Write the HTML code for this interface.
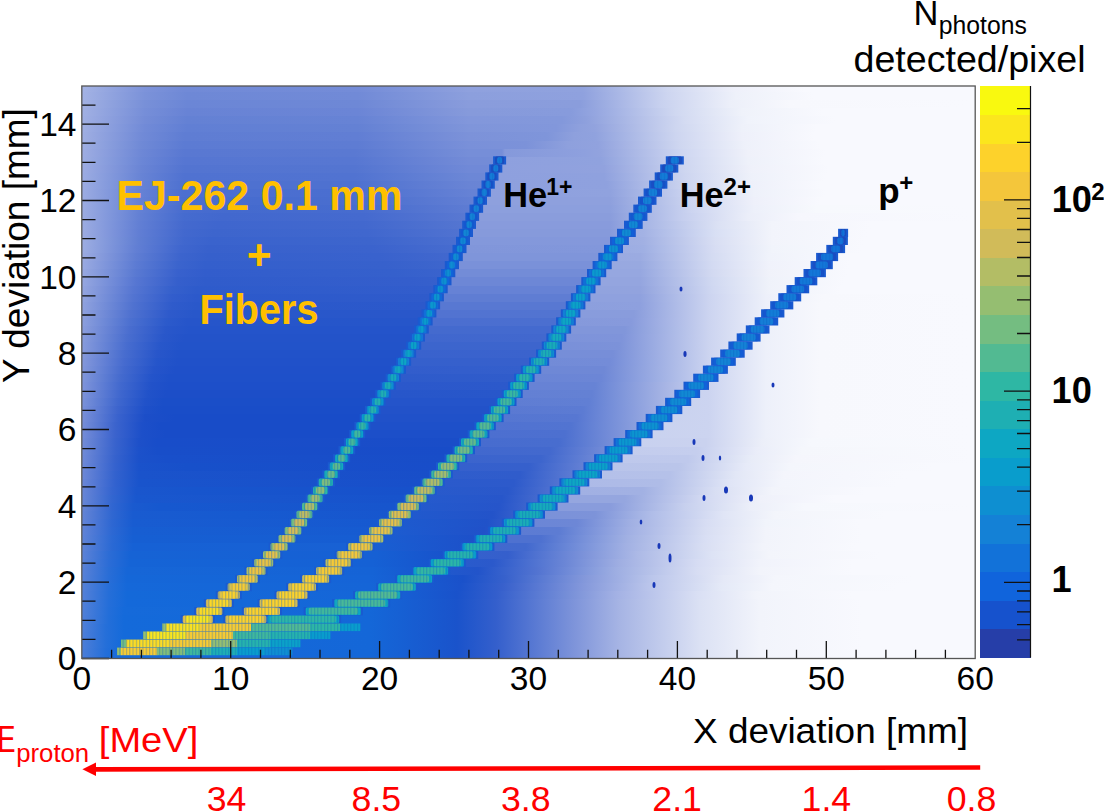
<!DOCTYPE html><html><head><meta charset="utf-8"><style>html,body{margin:0;padding:0;background:#fff;width:1104px;height:811px;overflow:hidden;font-family:"Liberation Sans",sans-serif}svg{display:block}</style></head><body><svg width="1104" height="811" viewBox="0 0 1104 811" font-family="'Liberation Sans', sans-serif">
<defs><linearGradient id="r0" gradientUnits="userSpaceOnUse" x1="82" x2="975" y1="0" y2="0"><stop offset="0.0000" stop-color="#4c7dd8"/><stop offset="0.0269" stop-color="#226ed9"/><stop offset="0.0437" stop-color="#146ada"/><stop offset="0.3225" stop-color="#1467d8"/><stop offset="0.4199" stop-color="#1a53cb"/><stop offset="0.4636" stop-color="#345fcc"/><stop offset="0.5510" stop-color="#7e94da"/><stop offset="0.6013" stop-color="#a6b4e4"/><stop offset="0.6920" stop-color="#dbe1f4"/><stop offset="0.7592" stop-color="#f2f4fb"/><stop offset="0.8735" stop-color="#f8f9fe"/><stop offset="0.9978" stop-color="#f8f9fe"/></linearGradient><linearGradient id="r1" gradientUnits="userSpaceOnUse" x1="82" x2="975" y1="0" y2="0"><stop offset="0.0000" stop-color="#4c7ed8"/><stop offset="0.0269" stop-color="#236ed9"/><stop offset="0.0437" stop-color="#146ada"/><stop offset="0.3225" stop-color="#1467d8"/><stop offset="0.4199" stop-color="#1a53cb"/><stop offset="0.4636" stop-color="#345fcc"/><stop offset="0.5510" stop-color="#7e94da"/><stop offset="0.6013" stop-color="#a6b4e4"/><stop offset="0.6920" stop-color="#dbe1f4"/><stop offset="0.7592" stop-color="#f2f4fb"/><stop offset="0.8735" stop-color="#f8f9fe"/><stop offset="0.9978" stop-color="#f8f9fe"/></linearGradient><linearGradient id="r2" gradientUnits="userSpaceOnUse" x1="82" x2="975" y1="0" y2="0"><stop offset="0.0000" stop-color="#4d7ed8"/><stop offset="0.0269" stop-color="#246fd9"/><stop offset="0.0437" stop-color="#156ada"/><stop offset="0.3225" stop-color="#1467d8"/><stop offset="0.4199" stop-color="#1a53cb"/><stop offset="0.4636" stop-color="#345fcc"/><stop offset="0.5510" stop-color="#7e94da"/><stop offset="0.6013" stop-color="#a6b4e4"/><stop offset="0.6920" stop-color="#dbe1f4"/><stop offset="0.7592" stop-color="#f2f4fb"/><stop offset="0.8735" stop-color="#f8f9fe"/><stop offset="0.9978" stop-color="#f8f9fe"/></linearGradient><linearGradient id="r3" gradientUnits="userSpaceOnUse" x1="82" x2="975" y1="0" y2="0"><stop offset="0.0000" stop-color="#4e7ed8"/><stop offset="0.0269" stop-color="#256fd9"/><stop offset="0.0470" stop-color="#146ada"/><stop offset="0.3225" stop-color="#1467d8"/><stop offset="0.4199" stop-color="#1a53cb"/><stop offset="0.4636" stop-color="#345fcc"/><stop offset="0.5510" stop-color="#7e94da"/><stop offset="0.6013" stop-color="#a6b4e4"/><stop offset="0.6920" stop-color="#dbe1f4"/><stop offset="0.7592" stop-color="#f2f4fb"/><stop offset="0.8735" stop-color="#f8f9fe"/><stop offset="0.9978" stop-color="#f8f9fe"/></linearGradient><linearGradient id="r4" gradientUnits="userSpaceOnUse" x1="82" x2="975" y1="0" y2="0"><stop offset="0.0000" stop-color="#4f7fd8"/><stop offset="0.0269" stop-color="#256fd9"/><stop offset="0.0470" stop-color="#146ada"/><stop offset="0.3225" stop-color="#1467d8"/><stop offset="0.4199" stop-color="#1a53cb"/><stop offset="0.4636" stop-color="#345fcc"/><stop offset="0.5510" stop-color="#7e94da"/><stop offset="0.6013" stop-color="#a6b4e4"/><stop offset="0.6920" stop-color="#dbe1f4"/><stop offset="0.7592" stop-color="#f2f4fb"/><stop offset="0.8735" stop-color="#f8f9fe"/><stop offset="0.9978" stop-color="#f8f9fe"/></linearGradient><linearGradient id="r5" gradientUnits="userSpaceOnUse" x1="82" x2="975" y1="0" y2="0"><stop offset="0.0000" stop-color="#507fd8"/><stop offset="0.0302" stop-color="#226ed9"/><stop offset="0.0470" stop-color="#146ada"/><stop offset="0.3225" stop-color="#1467d8"/><stop offset="0.4199" stop-color="#1a53cb"/><stop offset="0.4636" stop-color="#345fcc"/><stop offset="0.5510" stop-color="#7e94da"/><stop offset="0.6013" stop-color="#a6b4e4"/><stop offset="0.6920" stop-color="#dbe1f4"/><stop offset="0.7592" stop-color="#f2f4fb"/><stop offset="0.8735" stop-color="#f8f9fe"/><stop offset="0.9978" stop-color="#f8f9fe"/></linearGradient><linearGradient id="r6" gradientUnits="userSpaceOnUse" x1="82" x2="975" y1="0" y2="0"><stop offset="0.0000" stop-color="#5180d8"/><stop offset="0.0302" stop-color="#236ed9"/><stop offset="0.0470" stop-color="#156ada"/><stop offset="0.3225" stop-color="#1467d8"/><stop offset="0.4199" stop-color="#1a53cb"/><stop offset="0.4636" stop-color="#345fcc"/><stop offset="0.5510" stop-color="#7e94da"/><stop offset="0.6013" stop-color="#a6b4e4"/><stop offset="0.6920" stop-color="#dbe1f4"/><stop offset="0.7592" stop-color="#f2f4fb"/><stop offset="0.8735" stop-color="#f8f9fe"/><stop offset="0.9978" stop-color="#f8f9fe"/></linearGradient><linearGradient id="r7" gradientUnits="userSpaceOnUse" x1="82" x2="975" y1="0" y2="0"><stop offset="0.0000" stop-color="#5280d8"/><stop offset="0.0302" stop-color="#246ed9"/><stop offset="0.0504" stop-color="#1469da"/><stop offset="0.3225" stop-color="#1467d8"/><stop offset="0.4199" stop-color="#1a53cb"/><stop offset="0.4636" stop-color="#345fcc"/><stop offset="0.5510" stop-color="#7e94da"/><stop offset="0.6013" stop-color="#a6b4e4"/><stop offset="0.6920" stop-color="#dbe1f4"/><stop offset="0.7592" stop-color="#f2f4fb"/><stop offset="0.8735" stop-color="#f8f9fe"/><stop offset="0.9978" stop-color="#f8f9fe"/></linearGradient><linearGradient id="r8" gradientUnits="userSpaceOnUse" x1="82" x2="975" y1="0" y2="0"><stop offset="0.0000" stop-color="#5480d8"/><stop offset="0.0302" stop-color="#256ed8"/><stop offset="0.0504" stop-color="#1469d9"/><stop offset="0.3225" stop-color="#1566d8"/><stop offset="0.4199" stop-color="#1952cb"/><stop offset="0.4636" stop-color="#335ecc"/><stop offset="0.5510" stop-color="#7c93d9"/><stop offset="0.5980" stop-color="#a3b1e4"/><stop offset="0.6887" stop-color="#d9dff4"/><stop offset="0.7559" stop-color="#f2f4fb"/><stop offset="0.8634" stop-color="#f8f9fe"/><stop offset="0.9978" stop-color="#f8f9fe"/></linearGradient><linearGradient id="r9" gradientUnits="userSpaceOnUse" x1="82" x2="975" y1="0" y2="0"><stop offset="0.0000" stop-color="#5581d8"/><stop offset="0.0302" stop-color="#266ed8"/><stop offset="0.0504" stop-color="#1568d9"/><stop offset="0.3225" stop-color="#1565d7"/><stop offset="0.4233" stop-color="#1a52cb"/><stop offset="0.4703" stop-color="#3760cc"/><stop offset="0.5610" stop-color="#8498db"/><stop offset="0.6316" stop-color="#b8c3ea"/><stop offset="0.7156" stop-color="#e4e9f7"/><stop offset="0.7727" stop-color="#f4f6fc"/><stop offset="0.9138" stop-color="#f8f9fe"/><stop offset="0.9978" stop-color="#f8f9fe"/></linearGradient><linearGradient id="r10" gradientUnits="userSpaceOnUse" x1="82" x2="975" y1="0" y2="0"><stop offset="0.0000" stop-color="#5781d7"/><stop offset="0.0302" stop-color="#286dd7"/><stop offset="0.0504" stop-color="#1567d8"/><stop offset="0.3225" stop-color="#1564d7"/><stop offset="0.4267" stop-color="#1a51ca"/><stop offset="0.4737" stop-color="#3761cc"/><stop offset="0.5644" stop-color="#8599db"/><stop offset="0.6383" stop-color="#bbc6eb"/><stop offset="0.7189" stop-color="#e5e9f7"/><stop offset="0.7760" stop-color="#f4f6fc"/><stop offset="0.9306" stop-color="#f8f9fe"/><stop offset="0.9978" stop-color="#f8f9fe"/></linearGradient><linearGradient id="r11" gradientUnits="userSpaceOnUse" x1="82" x2="975" y1="0" y2="0"><stop offset="0.0000" stop-color="#5981d7"/><stop offset="0.0302" stop-color="#296dd6"/><stop offset="0.0504" stop-color="#1666d7"/><stop offset="0.3259" stop-color="#1563d6"/><stop offset="0.3897" stop-color="#1756ce"/><stop offset="0.3931" stop-color="#205ace"/><stop offset="0.4434" stop-color="#2254ca"/><stop offset="0.5106" stop-color="#5374d1"/><stop offset="0.5980" stop-color="#9eaee2"/><stop offset="0.6887" stop-color="#d7ddf3"/><stop offset="0.7592" stop-color="#f2f4fb"/><stop offset="0.8634" stop-color="#f8f9fe"/><stop offset="0.9978" stop-color="#f8f9fe"/></linearGradient><linearGradient id="r12" gradientUnits="userSpaceOnUse" x1="82" x2="975" y1="0" y2="0"><stop offset="0.0000" stop-color="#5a82d7"/><stop offset="0.0302" stop-color="#2b6cd6"/><stop offset="0.0538" stop-color="#1564d6"/><stop offset="0.3259" stop-color="#1561d5"/><stop offset="0.4065" stop-color="#1753cc"/><stop offset="0.4099" stop-color="#285ccd"/><stop offset="0.4602" stop-color="#2b59cb"/><stop offset="0.5409" stop-color="#6b86d6"/><stop offset="0.6013" stop-color="#9faee2"/><stop offset="0.6887" stop-color="#d6dcf3"/><stop offset="0.7592" stop-color="#f1f3fb"/><stop offset="0.8634" stop-color="#f8f9fe"/><stop offset="0.9978" stop-color="#f8f9fe"/></linearGradient><linearGradient id="r13" gradientUnits="userSpaceOnUse" x1="82" x2="975" y1="0" y2="0"><stop offset="0.0000" stop-color="#5c82d7"/><stop offset="0.0302" stop-color="#2c6cd5"/><stop offset="0.0538" stop-color="#1663d5"/><stop offset="0.3292" stop-color="#1660d4"/><stop offset="0.4233" stop-color="#1850ca"/><stop offset="0.4267" stop-color="#3461cd"/><stop offset="0.4770" stop-color="#355fcc"/><stop offset="0.5644" stop-color="#7e94da"/><stop offset="0.6215" stop-color="#acb9e6"/><stop offset="0.7055" stop-color="#dde3f5"/><stop offset="0.7693" stop-color="#f3f5fb"/><stop offset="0.8936" stop-color="#f8f9fe"/><stop offset="0.9978" stop-color="#f8f9fe"/></linearGradient><linearGradient id="r14" gradientUnits="userSpaceOnUse" x1="82" x2="975" y1="0" y2="0"><stop offset="0.0000" stop-color="#5e83d7"/><stop offset="0.0336" stop-color="#2a69d4"/><stop offset="0.0571" stop-color="#1661d5"/><stop offset="0.3124" stop-color="#1861d4"/><stop offset="0.4401" stop-color="#1d50c9"/><stop offset="0.4434" stop-color="#4168ce"/><stop offset="0.4972" stop-color="#4269ce"/><stop offset="0.6081" stop-color="#a1b0e3"/><stop offset="0.6954" stop-color="#d8def3"/><stop offset="0.7626" stop-color="#f2f4fb"/><stop offset="0.8667" stop-color="#f8f9fe"/><stop offset="0.9978" stop-color="#f8f9fe"/></linearGradient><linearGradient id="r15" gradientUnits="userSpaceOnUse" x1="82" x2="975" y1="0" y2="0"><stop offset="0.0000" stop-color="#5f83d7"/><stop offset="0.0336" stop-color="#2b69d4"/><stop offset="0.0571" stop-color="#165fd3"/><stop offset="0.3225" stop-color="#165dd2"/><stop offset="0.3292" stop-color="#1a5ed2"/><stop offset="0.4434" stop-color="#1d50c9"/><stop offset="0.4569" stop-color="#2555ca"/><stop offset="0.4602" stop-color="#4e71d0"/><stop offset="0.5140" stop-color="#4e71d0"/><stop offset="0.6114" stop-color="#a2b1e3"/><stop offset="0.6988" stop-color="#d9dff4"/><stop offset="0.7660" stop-color="#f2f4fb"/><stop offset="0.8735" stop-color="#f8f9fe"/><stop offset="0.9978" stop-color="#f8f9fe"/></linearGradient><linearGradient id="r16" gradientUnits="userSpaceOnUse" x1="82" x2="975" y1="0" y2="0"><stop offset="0.0000" stop-color="#6183d7"/><stop offset="0.0336" stop-color="#2d68d3"/><stop offset="0.0571" stop-color="#175ed2"/><stop offset="0.3326" stop-color="#165bd1"/><stop offset="0.3359" stop-color="#1c5dd1"/><stop offset="0.4502" stop-color="#2051c9"/><stop offset="0.4703" stop-color="#2c59cb"/><stop offset="0.4737" stop-color="#5c7bd3"/><stop offset="0.5342" stop-color="#5d7cd3"/><stop offset="0.6114" stop-color="#a0afe3"/><stop offset="0.6988" stop-color="#d8def3"/><stop offset="0.7660" stop-color="#f2f4fb"/><stop offset="0.8735" stop-color="#f8f9fe"/><stop offset="0.9978" stop-color="#f8f9fe"/></linearGradient><linearGradient id="r17" gradientUnits="userSpaceOnUse" x1="82" x2="975" y1="0" y2="0"><stop offset="0.0000" stop-color="#6384d7"/><stop offset="0.0336" stop-color="#2e67d2"/><stop offset="0.0571" stop-color="#185cd1"/><stop offset="0.3393" stop-color="#1659d0"/><stop offset="0.3427" stop-color="#1658cf"/><stop offset="0.3460" stop-color="#1d5bcf"/><stop offset="0.4535" stop-color="#2052c9"/><stop offset="0.4871" stop-color="#3660cc"/><stop offset="0.4905" stop-color="#6b86d6"/><stop offset="0.5543" stop-color="#6d87d6"/><stop offset="0.6148" stop-color="#a1b0e3"/><stop offset="0.6988" stop-color="#d7ddf3"/><stop offset="0.7660" stop-color="#f1f4fb"/><stop offset="0.8701" stop-color="#f8f9fe"/><stop offset="0.9978" stop-color="#f8f9fe"/></linearGradient><linearGradient id="r18" gradientUnits="userSpaceOnUse" x1="82" x2="975" y1="0" y2="0"><stop offset="0.0000" stop-color="#6484d6"/><stop offset="0.0336" stop-color="#3067d1"/><stop offset="0.0571" stop-color="#195bd0"/><stop offset="0.1781" stop-color="#165ad0"/><stop offset="0.3494" stop-color="#1756ce"/><stop offset="0.3527" stop-color="#1756ce"/><stop offset="0.3561" stop-color="#205ace"/><stop offset="0.4602" stop-color="#2353c9"/><stop offset="0.5006" stop-color="#3e66ce"/><stop offset="0.5039" stop-color="#7a91d9"/><stop offset="0.5745" stop-color="#7d93d9"/><stop offset="0.6383" stop-color="#b0bde8"/><stop offset="0.7189" stop-color="#e0e5f6"/><stop offset="0.7760" stop-color="#f3f5fb"/><stop offset="0.9003" stop-color="#f8f9fe"/><stop offset="0.9978" stop-color="#f8f9fe"/></linearGradient><linearGradient id="r19" gradientUnits="userSpaceOnUse" x1="82" x2="975" y1="0" y2="0"><stop offset="0.0000" stop-color="#6685d6"/><stop offset="0.0336" stop-color="#3166d1"/><stop offset="0.0571" stop-color="#1a5acf"/><stop offset="0.0873" stop-color="#1658cf"/><stop offset="0.3494" stop-color="#1755cd"/><stop offset="0.3628" stop-color="#1754cd"/><stop offset="0.3662" stop-color="#235acd"/><stop offset="0.4670" stop-color="#2655ca"/><stop offset="0.5140" stop-color="#476ccf"/><stop offset="0.5174" stop-color="#889cdc"/><stop offset="0.5913" stop-color="#899cdc"/><stop offset="0.6753" stop-color="#c7d0ee"/><stop offset="0.7492" stop-color="#eceff9"/><stop offset="0.8096" stop-color="#f6f8fd"/><stop offset="0.9978" stop-color="#f8f9fe"/></linearGradient><linearGradient id="r20" gradientUnits="userSpaceOnUse" x1="82" x2="975" y1="0" y2="0"><stop offset="0.0000" stop-color="#6886d6"/><stop offset="0.0336" stop-color="#3366d0"/><stop offset="0.0605" stop-color="#1957ce"/><stop offset="0.3595" stop-color="#1753cc"/><stop offset="0.3729" stop-color="#1752cb"/><stop offset="0.3763" stop-color="#255acd"/><stop offset="0.4703" stop-color="#2756ca"/><stop offset="0.5274" stop-color="#5072d0"/><stop offset="0.5308" stop-color="#95a6df"/><stop offset="0.6081" stop-color="#95a6df"/><stop offset="0.6920" stop-color="#d0d7f1"/><stop offset="0.7592" stop-color="#eff1fa"/><stop offset="0.8432" stop-color="#f8f9fe"/><stop offset="0.9978" stop-color="#f8f9fe"/></linearGradient><linearGradient id="r21" gradientUnits="userSpaceOnUse" x1="82" x2="975" y1="0" y2="0"><stop offset="0.0000" stop-color="#6986d6"/><stop offset="0.0336" stop-color="#3565d0"/><stop offset="0.0605" stop-color="#1a56cd"/><stop offset="0.1277" stop-color="#1755cd"/><stop offset="0.3695" stop-color="#1751cb"/><stop offset="0.3830" stop-color="#1750ca"/><stop offset="0.3863" stop-color="#285acc"/><stop offset="0.4770" stop-color="#2a58ca"/><stop offset="0.5375" stop-color="#5676d2"/><stop offset="0.5409" stop-color="#a1b0e3"/><stop offset="0.6282" stop-color="#a2b1e3"/><stop offset="0.7088" stop-color="#d8def3"/><stop offset="0.7727" stop-color="#f2f4fb"/><stop offset="0.8768" stop-color="#f8f9fe"/><stop offset="0.9978" stop-color="#f8f9fe"/></linearGradient><linearGradient id="r22" gradientUnits="userSpaceOnUse" x1="82" x2="975" y1="0" y2="0"><stop offset="0.0000" stop-color="#6b87d7"/><stop offset="0.0370" stop-color="#3262cf"/><stop offset="0.0638" stop-color="#1954cc"/><stop offset="0.3830" stop-color="#184fca"/><stop offset="0.3897" stop-color="#184fca"/><stop offset="0.3931" stop-color="#2a5acc"/><stop offset="0.4838" stop-color="#2d5acb"/><stop offset="0.5510" stop-color="#5e7cd3"/><stop offset="0.5543" stop-color="#adbae7"/><stop offset="0.6484" stop-color="#afbce7"/><stop offset="0.7256" stop-color="#e0e5f6"/><stop offset="0.7828" stop-color="#f3f5fc"/><stop offset="0.9138" stop-color="#f8f9fe"/><stop offset="0.9978" stop-color="#f8f9fe"/></linearGradient><linearGradient id="r23" gradientUnits="userSpaceOnUse" x1="82" x2="975" y1="0" y2="0"><stop offset="0.0000" stop-color="#6d88d7"/><stop offset="0.0370" stop-color="#3362ce"/><stop offset="0.0638" stop-color="#1a53cb"/><stop offset="0.3998" stop-color="#184ec9"/><stop offset="0.4031" stop-color="#2f5dcc"/><stop offset="0.4905" stop-color="#305ccb"/><stop offset="0.5644" stop-color="#6783d5"/><stop offset="0.5677" stop-color="#b4c0e9"/><stop offset="0.6585" stop-color="#b5c1e9"/><stop offset="0.7324" stop-color="#e2e7f6"/><stop offset="0.7861" stop-color="#f4f5fc"/><stop offset="0.9239" stop-color="#f8f9fe"/><stop offset="0.9978" stop-color="#f8f9fe"/></linearGradient><linearGradient id="r24" gradientUnits="userSpaceOnUse" x1="82" x2="975" y1="0" y2="0"><stop offset="0.0000" stop-color="#6e89d7"/><stop offset="0.0370" stop-color="#3562ce"/><stop offset="0.0638" stop-color="#1a52cb"/><stop offset="0.1176" stop-color="#1750ca"/><stop offset="0.4065" stop-color="#184dc9"/><stop offset="0.4099" stop-color="#3560cd"/><stop offset="0.5006" stop-color="#3660cc"/><stop offset="0.5745" stop-color="#6d87d6"/><stop offset="0.5778" stop-color="#b9c4ea"/><stop offset="0.6685" stop-color="#bac5ea"/><stop offset="0.7424" stop-color="#e6eaf8"/><stop offset="0.7928" stop-color="#f4f6fc"/><stop offset="0.9541" stop-color="#f8f9fe"/><stop offset="0.9978" stop-color="#f8f9fe"/></linearGradient><linearGradient id="r25" gradientUnits="userSpaceOnUse" x1="82" x2="975" y1="0" y2="0"><stop offset="0.0000" stop-color="#708ad7"/><stop offset="0.0370" stop-color="#3662cd"/><stop offset="0.0638" stop-color="#1b51ca"/><stop offset="0.0941" stop-color="#184fca"/><stop offset="0.4166" stop-color="#184dc8"/><stop offset="0.4199" stop-color="#3b64cd"/><stop offset="0.5140" stop-color="#3d65cd"/><stop offset="0.5879" stop-color="#768ed8"/><stop offset="0.5913" stop-color="#bec8ec"/><stop offset="0.6786" stop-color="#bfc9ec"/><stop offset="0.7492" stop-color="#e8ecf8"/><stop offset="0.7996" stop-color="#f5f6fc"/><stop offset="0.9978" stop-color="#f8f9fe"/></linearGradient><linearGradient id="r26" gradientUnits="userSpaceOnUse" x1="82" x2="975" y1="0" y2="0"><stop offset="0.0000" stop-color="#718bd7"/><stop offset="0.0370" stop-color="#3863cd"/><stop offset="0.0638" stop-color="#1c51ca"/><stop offset="0.0840" stop-color="#184ec9"/><stop offset="0.4267" stop-color="#184cc8"/><stop offset="0.4300" stop-color="#4168ce"/><stop offset="0.5241" stop-color="#4369ce"/><stop offset="0.5980" stop-color="#7c92d9"/><stop offset="0.6013" stop-color="#c3cced"/><stop offset="0.6887" stop-color="#c5ceee"/><stop offset="0.7559" stop-color="#eaedf9"/><stop offset="0.8063" stop-color="#f5f7fc"/><stop offset="0.9978" stop-color="#f8f9fe"/></linearGradient><linearGradient id="r27" gradientUnits="userSpaceOnUse" x1="82" x2="975" y1="0" y2="0"><stop offset="0.0000" stop-color="#738cd7"/><stop offset="0.0370" stop-color="#3963cd"/><stop offset="0.0638" stop-color="#1d50c9"/><stop offset="0.0840" stop-color="#184dc9"/><stop offset="0.4334" stop-color="#1a4dc8"/><stop offset="0.4367" stop-color="#476ccf"/><stop offset="0.5342" stop-color="#486dcf"/><stop offset="0.6081" stop-color="#8196da"/><stop offset="0.6114" stop-color="#c8d1ef"/><stop offset="0.6988" stop-color="#cad2ef"/><stop offset="0.7626" stop-color="#eceff9"/><stop offset="0.8163" stop-color="#f6f8fd"/><stop offset="0.9978" stop-color="#f8f9fe"/></linearGradient><linearGradient id="r28" gradientUnits="userSpaceOnUse" x1="82" x2="975" y1="0" y2="0"><stop offset="0.0000" stop-color="#758dd8"/><stop offset="0.0370" stop-color="#3b63cd"/><stop offset="0.0672" stop-color="#1c4fc9"/><stop offset="0.0941" stop-color="#184cc8"/><stop offset="0.3057" stop-color="#184cc8"/><stop offset="0.3124" stop-color="#1c4fc9"/><stop offset="0.4434" stop-color="#1c4fc9"/><stop offset="0.4468" stop-color="#4c6fd0"/><stop offset="0.5409" stop-color="#4d70d0"/><stop offset="0.6215" stop-color="#8c9edd"/><stop offset="0.6249" stop-color="#c9d2ef"/><stop offset="0.7021" stop-color="#ccd4f0"/><stop offset="0.7660" stop-color="#edf0fa"/><stop offset="0.8264" stop-color="#f7f8fd"/><stop offset="0.9978" stop-color="#f8f9fe"/></linearGradient><linearGradient id="r29" gradientUnits="userSpaceOnUse" x1="82" x2="975" y1="0" y2="0"><stop offset="0.0000" stop-color="#768ed8"/><stop offset="0.0370" stop-color="#3c64cd"/><stop offset="0.0672" stop-color="#1d4fc9"/><stop offset="0.0873" stop-color="#184cc8"/><stop offset="0.3124" stop-color="#184cc8"/><stop offset="0.3158" stop-color="#1e50c9"/><stop offset="0.4502" stop-color="#1e50c9"/><stop offset="0.4535" stop-color="#5072d1"/><stop offset="0.5476" stop-color="#5274d1"/><stop offset="0.6349" stop-color="#97a8e0"/><stop offset="0.6383" stop-color="#c9d2ef"/><stop offset="0.7021" stop-color="#ccd4f0"/><stop offset="0.7660" stop-color="#edf0fa"/><stop offset="0.8264" stop-color="#f7f8fd"/><stop offset="0.9978" stop-color="#f8f9fe"/></linearGradient><linearGradient id="r30" gradientUnits="userSpaceOnUse" x1="82" x2="975" y1="0" y2="0"><stop offset="0.0000" stop-color="#788fd8"/><stop offset="0.0403" stop-color="#3962cd"/><stop offset="0.0705" stop-color="#1c4ec8"/><stop offset="0.1041" stop-color="#184cc8"/><stop offset="0.3191" stop-color="#184cc8"/><stop offset="0.3225" stop-color="#2051c9"/><stop offset="0.4569" stop-color="#2051c9"/><stop offset="0.4602" stop-color="#5576d1"/><stop offset="0.5543" stop-color="#5777d2"/><stop offset="0.6417" stop-color="#9dade2"/><stop offset="0.6450" stop-color="#a0afe3"/><stop offset="0.6484" stop-color="#c9d2ef"/><stop offset="0.7021" stop-color="#ccd4f0"/><stop offset="0.7660" stop-color="#edf0fa"/><stop offset="0.8264" stop-color="#f7f8fd"/><stop offset="0.9978" stop-color="#f8f9fe"/></linearGradient><linearGradient id="r31" gradientUnits="userSpaceOnUse" x1="82" x2="975" y1="0" y2="0"><stop offset="0.0000" stop-color="#7990d9"/><stop offset="0.0403" stop-color="#3c64cd"/><stop offset="0.0705" stop-color="#1e50c9"/><stop offset="0.0907" stop-color="#194dc8"/><stop offset="0.3225" stop-color="#194dc8"/><stop offset="0.3259" stop-color="#2252c9"/><stop offset="0.4670" stop-color="#2252c9"/><stop offset="0.4703" stop-color="#5a79d2"/><stop offset="0.5610" stop-color="#5c7bd3"/><stop offset="0.6450" stop-color="#a0afe3"/><stop offset="0.6551" stop-color="#a9b6e5"/><stop offset="0.6585" stop-color="#c9d2ef"/><stop offset="0.7021" stop-color="#ccd4f0"/><stop offset="0.7660" stop-color="#edf0fa"/><stop offset="0.8264" stop-color="#f7f8fd"/><stop offset="0.9978" stop-color="#f8f9fe"/></linearGradient><linearGradient id="r32" gradientUnits="userSpaceOnUse" x1="82" x2="975" y1="0" y2="0"><stop offset="0.0000" stop-color="#7b92d9"/><stop offset="0.0403" stop-color="#3f67ce"/><stop offset="0.0705" stop-color="#2152c9"/><stop offset="0.0907" stop-color="#1a4ec8"/><stop offset="0.3292" stop-color="#1a4ec8"/><stop offset="0.3326" stop-color="#2454ca"/><stop offset="0.4737" stop-color="#2454ca"/><stop offset="0.4770" stop-color="#5f7dd3"/><stop offset="0.5677" stop-color="#617fd4"/><stop offset="0.6517" stop-color="#a6b4e4"/><stop offset="0.6652" stop-color="#b1bde8"/><stop offset="0.6685" stop-color="#c9d2ef"/><stop offset="0.7021" stop-color="#ccd4f0"/><stop offset="0.7660" stop-color="#edf0fa"/><stop offset="0.8264" stop-color="#f7f8fd"/><stop offset="0.9978" stop-color="#f8f9fe"/></linearGradient><linearGradient id="r33" gradientUnits="userSpaceOnUse" x1="82" x2="975" y1="0" y2="0"><stop offset="0.0000" stop-color="#7d93d9"/><stop offset="0.0437" stop-color="#3e66ce"/><stop offset="0.0739" stop-color="#2152c9"/><stop offset="0.0941" stop-color="#1c4ec8"/><stop offset="0.3359" stop-color="#1c4ec8"/><stop offset="0.3393" stop-color="#2756ca"/><stop offset="0.4804" stop-color="#2857ca"/><stop offset="0.4838" stop-color="#6380d4"/><stop offset="0.5711" stop-color="#6481d4"/><stop offset="0.6517" stop-color="#a6b4e4"/><stop offset="0.6753" stop-color="#b8c4ea"/><stop offset="0.6786" stop-color="#c9d2ef"/><stop offset="0.7021" stop-color="#ccd4f0"/><stop offset="0.7660" stop-color="#edf0fa"/><stop offset="0.8264" stop-color="#f7f8fd"/><stop offset="0.9978" stop-color="#f8f9fe"/></linearGradient><linearGradient id="r34" gradientUnits="userSpaceOnUse" x1="82" x2="975" y1="0" y2="0"><stop offset="0.0000" stop-color="#7f94da"/><stop offset="0.0437" stop-color="#4168ce"/><stop offset="0.0773" stop-color="#2252c9"/><stop offset="0.0974" stop-color="#1d4fc9"/><stop offset="0.3427" stop-color="#1d4fc9"/><stop offset="0.3460" stop-color="#2b58cb"/><stop offset="0.4871" stop-color="#2c59cb"/><stop offset="0.4905" stop-color="#6782d5"/><stop offset="0.5745" stop-color="#6783d5"/><stop offset="0.6551" stop-color="#a9b6e5"/><stop offset="0.6853" stop-color="#c0caec"/><stop offset="0.6887" stop-color="#c9d2ef"/><stop offset="0.7021" stop-color="#ccd4f0"/><stop offset="0.7660" stop-color="#edf0fa"/><stop offset="0.8264" stop-color="#f7f8fd"/><stop offset="0.9978" stop-color="#f8f9fe"/></linearGradient><linearGradient id="r35" gradientUnits="userSpaceOnUse" x1="82" x2="975" y1="0" y2="0"><stop offset="0.0000" stop-color="#8096da"/><stop offset="0.0437" stop-color="#446ace"/><stop offset="0.0773" stop-color="#2454ca"/><stop offset="0.0974" stop-color="#1e50c9"/><stop offset="0.3460" stop-color="#1e50c9"/><stop offset="0.3494" stop-color="#2e5bcb"/><stop offset="0.4938" stop-color="#305ccb"/><stop offset="0.4972" stop-color="#6a85d6"/><stop offset="0.5812" stop-color="#6c86d6"/><stop offset="0.7021" stop-color="#ccd4f0"/><stop offset="0.7660" stop-color="#edf0fa"/><stop offset="0.8264" stop-color="#f7f8fd"/><stop offset="0.9978" stop-color="#f8f9fe"/></linearGradient><linearGradient id="r36" gradientUnits="userSpaceOnUse" x1="82" x2="975" y1="0" y2="0"><stop offset="0.0000" stop-color="#8297db"/><stop offset="0.0470" stop-color="#4369ce"/><stop offset="0.0806" stop-color="#2554ca"/><stop offset="0.1041" stop-color="#1f50c9"/><stop offset="0.3527" stop-color="#1f50c9"/><stop offset="0.3561" stop-color="#325dcc"/><stop offset="0.5006" stop-color="#345fcc"/><stop offset="0.5039" stop-color="#6e88d6"/><stop offset="0.5845" stop-color="#6f88d6"/><stop offset="0.7021" stop-color="#ccd4f0"/><stop offset="0.7660" stop-color="#edf0fa"/><stop offset="0.8264" stop-color="#f7f8fd"/><stop offset="0.9978" stop-color="#f8f9fe"/></linearGradient><linearGradient id="r37" gradientUnits="userSpaceOnUse" x1="82" x2="975" y1="0" y2="0"><stop offset="0.0000" stop-color="#8498db"/><stop offset="0.0470" stop-color="#466bcf"/><stop offset="0.0840" stop-color="#2555ca"/><stop offset="0.1075" stop-color="#2051c9"/><stop offset="0.3595" stop-color="#2051c9"/><stop offset="0.3628" stop-color="#3560cc"/><stop offset="0.5039" stop-color="#3760cc"/><stop offset="0.5106" stop-color="#3b63cd"/><stop offset="0.5140" stop-color="#728bd7"/><stop offset="0.5913" stop-color="#748cd8"/><stop offset="0.7021" stop-color="#ccd4f0"/><stop offset="0.7660" stop-color="#edf0fa"/><stop offset="0.8264" stop-color="#f7f8fd"/><stop offset="0.9978" stop-color="#f8f9fe"/></linearGradient><linearGradient id="r38" gradientUnits="userSpaceOnUse" x1="82" x2="975" y1="0" y2="0"><stop offset="0.0000" stop-color="#8599db"/><stop offset="0.0470" stop-color="#486dcf"/><stop offset="0.0840" stop-color="#2856ca"/><stop offset="0.1075" stop-color="#2152c9"/><stop offset="0.3628" stop-color="#2152c9"/><stop offset="0.3662" stop-color="#3962cd"/><stop offset="0.5106" stop-color="#3b63cd"/><stop offset="0.5174" stop-color="#3f66ce"/><stop offset="0.5207" stop-color="#768ed8"/><stop offset="0.5946" stop-color="#778ed8"/><stop offset="0.7021" stop-color="#ccd4f0"/><stop offset="0.7660" stop-color="#edf0fa"/><stop offset="0.8264" stop-color="#f7f8fd"/><stop offset="0.9978" stop-color="#f8f9fe"/></linearGradient><linearGradient id="r39" gradientUnits="userSpaceOnUse" x1="82" x2="975" y1="0" y2="0"><stop offset="0.0000" stop-color="#879bdc"/><stop offset="0.0504" stop-color="#476ccf"/><stop offset="0.0873" stop-color="#2857ca"/><stop offset="0.1109" stop-color="#2253c9"/><stop offset="0.3695" stop-color="#2253c9"/><stop offset="0.3729" stop-color="#3c65cd"/><stop offset="0.5140" stop-color="#3d65cd"/><stop offset="0.5241" stop-color="#446ace"/><stop offset="0.5274" stop-color="#7990d9"/><stop offset="0.6013" stop-color="#7c92d9"/><stop offset="0.7021" stop-color="#ccd4f0"/><stop offset="0.7660" stop-color="#edf0fa"/><stop offset="0.8264" stop-color="#f7f8fd"/><stop offset="0.9978" stop-color="#f8f9fe"/></linearGradient><linearGradient id="r40" gradientUnits="userSpaceOnUse" x1="82" x2="975" y1="0" y2="0"><stop offset="0.0000" stop-color="#889cdc"/><stop offset="0.0504" stop-color="#4a6ecf"/><stop offset="0.0907" stop-color="#2957ca"/><stop offset="0.1142" stop-color="#2353c9"/><stop offset="0.3729" stop-color="#2353c9"/><stop offset="0.3763" stop-color="#4067ce"/><stop offset="0.5207" stop-color="#4268ce"/><stop offset="0.5308" stop-color="#496dcf"/><stop offset="0.5342" stop-color="#7d93da"/><stop offset="0.6047" stop-color="#7f94da"/><stop offset="0.7021" stop-color="#ccd4f0"/><stop offset="0.7660" stop-color="#edf0fa"/><stop offset="0.8264" stop-color="#f7f8fd"/><stop offset="0.9978" stop-color="#f8f9fe"/></linearGradient><linearGradient id="r41" gradientUnits="userSpaceOnUse" x1="82" x2="975" y1="0" y2="0"><stop offset="0.0000" stop-color="#8a9ddc"/><stop offset="0.0538" stop-color="#496dcf"/><stop offset="0.0941" stop-color="#2957ca"/><stop offset="0.1209" stop-color="#2454ca"/><stop offset="0.3796" stop-color="#2454ca"/><stop offset="0.3830" stop-color="#446ace"/><stop offset="0.5241" stop-color="#446acf"/><stop offset="0.5342" stop-color="#4b6fd0"/><stop offset="0.5375" stop-color="#8196da"/><stop offset="0.6081" stop-color="#8196da"/><stop offset="0.7021" stop-color="#ccd4f0"/><stop offset="0.7660" stop-color="#edf0fa"/><stop offset="0.8264" stop-color="#f7f8fd"/><stop offset="0.9978" stop-color="#f8f9fe"/></linearGradient><linearGradient id="r42" gradientUnits="userSpaceOnUse" x1="82" x2="975" y1="0" y2="0"><stop offset="0.0000" stop-color="#8c9fdd"/><stop offset="0.0538" stop-color="#4c70d0"/><stop offset="0.0941" stop-color="#2c5acb"/><stop offset="0.1176" stop-color="#2655ca"/><stop offset="0.3830" stop-color="#2656ca"/><stop offset="0.3863" stop-color="#4b6ed0"/><stop offset="0.5342" stop-color="#4b6fd0"/><stop offset="0.5409" stop-color="#5072d1"/><stop offset="0.5442" stop-color="#8599db"/><stop offset="0.6148" stop-color="#879adc"/><stop offset="0.7021" stop-color="#ccd4f0"/><stop offset="0.7660" stop-color="#edf0fa"/><stop offset="0.8264" stop-color="#f7f8fd"/><stop offset="0.9978" stop-color="#f8f9fe"/></linearGradient><linearGradient id="r43" gradientUnits="userSpaceOnUse" x1="82" x2="975" y1="0" y2="0"><stop offset="0.0000" stop-color="#8ea0dd"/><stop offset="0.0538" stop-color="#5072d0"/><stop offset="0.0974" stop-color="#2e5acb"/><stop offset="0.1243" stop-color="#2857ca"/><stop offset="0.3863" stop-color="#2957ca"/><stop offset="0.3897" stop-color="#5273d1"/><stop offset="0.5442" stop-color="#5274d1"/><stop offset="0.5476" stop-color="#889cdc"/><stop offset="0.6181" stop-color="#899cdc"/><stop offset="0.7021" stop-color="#ccd4f0"/><stop offset="0.7660" stop-color="#edf0fa"/><stop offset="0.8264" stop-color="#f7f8fd"/><stop offset="0.9978" stop-color="#f8f9fe"/></linearGradient><linearGradient id="r44" gradientUnits="userSpaceOnUse" x1="82" x2="975" y1="0" y2="0"><stop offset="0.0000" stop-color="#90a2de"/><stop offset="0.0571" stop-color="#5072d0"/><stop offset="0.1008" stop-color="#2f5bcb"/><stop offset="0.1277" stop-color="#2a58ca"/><stop offset="0.3897" stop-color="#2c59cb"/><stop offset="0.3931" stop-color="#5878d2"/><stop offset="0.5510" stop-color="#5878d2"/><stop offset="0.5543" stop-color="#8c9fdd"/><stop offset="0.6249" stop-color="#8ea0de"/><stop offset="0.7021" stop-color="#ccd4f0"/><stop offset="0.7660" stop-color="#edf0fa"/><stop offset="0.8264" stop-color="#f7f8fd"/><stop offset="0.9978" stop-color="#f8f9fe"/></linearGradient><linearGradient id="r45" gradientUnits="userSpaceOnUse" x1="82" x2="975" y1="0" y2="0"><stop offset="0.0000" stop-color="#92a4df"/><stop offset="0.0571" stop-color="#5374d1"/><stop offset="0.1008" stop-color="#325dcc"/><stop offset="0.1277" stop-color="#2c59cb"/><stop offset="0.3964" stop-color="#2f5bcb"/><stop offset="0.3998" stop-color="#5f7dd3"/><stop offset="0.5577" stop-color="#5f7dd3"/><stop offset="0.5610" stop-color="#8fa1de"/><stop offset="0.6249" stop-color="#8fa1de"/><stop offset="0.7021" stop-color="#ccd4f0"/><stop offset="0.7660" stop-color="#edf0fa"/><stop offset="0.8298" stop-color="#f7f8fd"/><stop offset="0.9978" stop-color="#f8f9fe"/></linearGradient><linearGradient id="r46" gradientUnits="userSpaceOnUse" x1="82" x2="975" y1="0" y2="0"><stop offset="0.0000" stop-color="#94a5df"/><stop offset="0.0571" stop-color="#5676d2"/><stop offset="0.1008" stop-color="#3560cc"/><stop offset="0.1277" stop-color="#2e5bcb"/><stop offset="0.3998" stop-color="#325dcc"/><stop offset="0.4031" stop-color="#6682d5"/><stop offset="0.5610" stop-color="#6682d5"/><stop offset="0.5644" stop-color="#91a3de"/><stop offset="0.6249" stop-color="#92a3de"/><stop offset="0.7055" stop-color="#cfd7f1"/><stop offset="0.7693" stop-color="#eff2fa"/><stop offset="0.8499" stop-color="#f8f9fe"/><stop offset="0.9978" stop-color="#f8f9fe"/></linearGradient><linearGradient id="r47" gradientUnits="userSpaceOnUse" x1="82" x2="975" y1="0" y2="0"><stop offset="0.0000" stop-color="#96a7e0"/><stop offset="0.0605" stop-color="#5676d2"/><stop offset="0.1075" stop-color="#355fcc"/><stop offset="0.1377" stop-color="#305ccb"/><stop offset="0.3662" stop-color="#345ecc"/><stop offset="0.4031" stop-color="#3660cc"/><stop offset="0.4065" stop-color="#6d87d6"/><stop offset="0.5677" stop-color="#6d87d6"/><stop offset="0.5711" stop-color="#94a5df"/><stop offset="0.6249" stop-color="#94a5df"/><stop offset="0.7055" stop-color="#d0d8f1"/><stop offset="0.7693" stop-color="#eff2fa"/><stop offset="0.8533" stop-color="#f8f9fe"/><stop offset="0.9978" stop-color="#f8f9fe"/></linearGradient><linearGradient id="r48" gradientUnits="userSpaceOnUse" x1="82" x2="975" y1="0" y2="0"><stop offset="0.0000" stop-color="#98a8e0"/><stop offset="0.0605" stop-color="#5979d2"/><stop offset="0.1075" stop-color="#3861cd"/><stop offset="0.1377" stop-color="#325dcc"/><stop offset="0.3494" stop-color="#3560cc"/><stop offset="0.4099" stop-color="#3a63cd"/><stop offset="0.4132" stop-color="#738cd7"/><stop offset="0.5745" stop-color="#738cd7"/><stop offset="0.5778" stop-color="#96a7e0"/><stop offset="0.6249" stop-color="#96a7e0"/><stop offset="0.7055" stop-color="#d2d9f1"/><stop offset="0.7693" stop-color="#f0f2fa"/><stop offset="0.8567" stop-color="#f8f9fe"/><stop offset="0.9978" stop-color="#f8f9fe"/></linearGradient><linearGradient id="r49" gradientUnits="userSpaceOnUse" x1="82" x2="975" y1="0" y2="0"><stop offset="0.0000" stop-color="#9aaae1"/><stop offset="0.0605" stop-color="#5c7bd3"/><stop offset="0.1075" stop-color="#3b64cd"/><stop offset="0.1377" stop-color="#345fcc"/><stop offset="0.3393" stop-color="#3761cc"/><stop offset="0.4132" stop-color="#3e66cd"/><stop offset="0.4166" stop-color="#7a91d9"/><stop offset="0.5812" stop-color="#7a91d9"/><stop offset="0.5845" stop-color="#98a8e0"/><stop offset="0.6249" stop-color="#98a9e0"/><stop offset="0.7055" stop-color="#d3daf2"/><stop offset="0.7693" stop-color="#f0f2fb"/><stop offset="0.8600" stop-color="#f8f9fe"/><stop offset="0.9978" stop-color="#f8f9fe"/></linearGradient><linearGradient id="r50" gradientUnits="userSpaceOnUse" x1="82" x2="975" y1="0" y2="0"><stop offset="0.0000" stop-color="#9cabe1"/><stop offset="0.0605" stop-color="#5f7dd3"/><stop offset="0.1109" stop-color="#3c64cd"/><stop offset="0.1411" stop-color="#3660cc"/><stop offset="0.3326" stop-color="#3962cd"/><stop offset="0.4166" stop-color="#4268ce"/><stop offset="0.4199" stop-color="#7f95da"/><stop offset="0.5879" stop-color="#7f95da"/><stop offset="0.5913" stop-color="#9aaae1"/><stop offset="0.6249" stop-color="#9babe1"/><stop offset="0.7055" stop-color="#d4dbf2"/><stop offset="0.7693" stop-color="#f0f3fb"/><stop offset="0.8600" stop-color="#f8f9fe"/><stop offset="0.9978" stop-color="#f8f9fe"/></linearGradient><linearGradient id="r51" gradientUnits="userSpaceOnUse" x1="82" x2="975" y1="0" y2="0"><stop offset="0.0000" stop-color="#9dade2"/><stop offset="0.0605" stop-color="#627fd4"/><stop offset="0.1109" stop-color="#3f66ce"/><stop offset="0.1411" stop-color="#3861cc"/><stop offset="0.3259" stop-color="#3b63cd"/><stop offset="0.4199" stop-color="#476ccf"/><stop offset="0.4233" stop-color="#8196da"/><stop offset="0.5913" stop-color="#8297db"/><stop offset="0.5946" stop-color="#8499db"/><stop offset="0.5980" stop-color="#9cace2"/><stop offset="0.6282" stop-color="#9fafe3"/><stop offset="0.7088" stop-color="#d7ddf3"/><stop offset="0.7727" stop-color="#f1f4fb"/><stop offset="0.8735" stop-color="#f8f9fe"/><stop offset="0.9978" stop-color="#f8f9fe"/></linearGradient><linearGradient id="r52" gradientUnits="userSpaceOnUse" x1="82" x2="975" y1="0" y2="0"><stop offset="0.0000" stop-color="#9dade2"/><stop offset="0.0638" stop-color="#607ed3"/><stop offset="0.1142" stop-color="#4067ce"/><stop offset="0.1445" stop-color="#3a63cd"/><stop offset="0.3225" stop-color="#3d65cd"/><stop offset="0.4233" stop-color="#4b6fd0"/><stop offset="0.4267" stop-color="#8398db"/><stop offset="0.5913" stop-color="#8498db"/><stop offset="0.6013" stop-color="#8c9edd"/><stop offset="0.6047" stop-color="#9eaee2"/><stop offset="0.6282" stop-color="#a1b0e3"/><stop offset="0.7088" stop-color="#d8def3"/><stop offset="0.7727" stop-color="#f2f4fb"/><stop offset="0.8768" stop-color="#f8f9fe"/><stop offset="0.9978" stop-color="#f8f9fe"/></linearGradient><linearGradient id="r53" gradientUnits="userSpaceOnUse" x1="82" x2="975" y1="0" y2="0"><stop offset="0.0000" stop-color="#9dace2"/><stop offset="0.0638" stop-color="#617ed4"/><stop offset="0.1142" stop-color="#4268ce"/><stop offset="0.1478" stop-color="#3d65cd"/><stop offset="0.3191" stop-color="#4067ce"/><stop offset="0.4300" stop-color="#5173d1"/><stop offset="0.4334" stop-color="#869adb"/><stop offset="0.5913" stop-color="#869adb"/><stop offset="0.6081" stop-color="#93a4df"/><stop offset="0.6114" stop-color="#a1b0e3"/><stop offset="0.6282" stop-color="#a3b2e4"/><stop offset="0.7088" stop-color="#d8dff4"/><stop offset="0.7727" stop-color="#f2f4fb"/><stop offset="0.8802" stop-color="#f8f9fe"/><stop offset="0.9978" stop-color="#f8f9fe"/></linearGradient><linearGradient id="r54" gradientUnits="userSpaceOnUse" x1="82" x2="975" y1="0" y2="0"><stop offset="0.0000" stop-color="#9cace2"/><stop offset="0.0638" stop-color="#627fd4"/><stop offset="0.1142" stop-color="#4469ce"/><stop offset="0.1512" stop-color="#3f66ce"/><stop offset="0.3158" stop-color="#4268ce"/><stop offset="0.4334" stop-color="#5576d1"/><stop offset="0.4367" stop-color="#889bdc"/><stop offset="0.5913" stop-color="#889bdc"/><stop offset="0.6148" stop-color="#9babe1"/><stop offset="0.6181" stop-color="#a3b2e4"/><stop offset="0.6316" stop-color="#a8b6e5"/><stop offset="0.7122" stop-color="#dbe1f4"/><stop offset="0.7727" stop-color="#f2f4fb"/><stop offset="0.8835" stop-color="#f8f9fe"/><stop offset="0.9978" stop-color="#f8f9fe"/></linearGradient><linearGradient id="r55" gradientUnits="userSpaceOnUse" x1="82" x2="975" y1="0" y2="0"><stop offset="0.0000" stop-color="#9cace2"/><stop offset="0.0638" stop-color="#6380d4"/><stop offset="0.1142" stop-color="#456bcf"/><stop offset="0.1579" stop-color="#4268ce"/><stop offset="0.3158" stop-color="#456acf"/><stop offset="0.4367" stop-color="#5a79d2"/><stop offset="0.4401" stop-color="#8a9ddc"/><stop offset="0.5913" stop-color="#8a9ddc"/><stop offset="0.6719" stop-color="#c5ceee"/><stop offset="0.7458" stop-color="#ebeef9"/><stop offset="0.8029" stop-color="#f6f7fd"/><stop offset="0.9978" stop-color="#f8f9fe"/></linearGradient><linearGradient id="r56" gradientUnits="userSpaceOnUse" x1="82" x2="975" y1="0" y2="0"><stop offset="0.0000" stop-color="#9cace2"/><stop offset="0.0638" stop-color="#6481d4"/><stop offset="0.1142" stop-color="#486ccf"/><stop offset="0.1680" stop-color="#446ace"/><stop offset="0.3124" stop-color="#476ccf"/><stop offset="0.4367" stop-color="#5e7cd3"/><stop offset="0.4401" stop-color="#5e7cd3"/><stop offset="0.4434" stop-color="#8c9fdd"/><stop offset="0.5913" stop-color="#8c9fdd"/><stop offset="0.6820" stop-color="#ccd4f0"/><stop offset="0.7525" stop-color="#edf0fa"/><stop offset="0.8231" stop-color="#f7f9fd"/><stop offset="0.9978" stop-color="#f8f9fe"/></linearGradient><linearGradient id="r57" gradientUnits="userSpaceOnUse" x1="82" x2="975" y1="0" y2="0"><stop offset="0.0000" stop-color="#9cace2"/><stop offset="0.0638" stop-color="#6581d5"/><stop offset="0.1142" stop-color="#4a6ecf"/><stop offset="0.1982" stop-color="#476ccf"/><stop offset="0.3124" stop-color="#4a6ecf"/><stop offset="0.4367" stop-color="#627fd4"/><stop offset="0.4434" stop-color="#627fd4"/><stop offset="0.4468" stop-color="#8ea0dd"/><stop offset="0.5913" stop-color="#8ea0dd"/><stop offset="0.6820" stop-color="#cdd5f0"/><stop offset="0.7525" stop-color="#eef0fa"/><stop offset="0.8264" stop-color="#f8f9fe"/><stop offset="0.9978" stop-color="#f8f9fe"/></linearGradient><linearGradient id="r58" gradientUnits="userSpaceOnUse" x1="82" x2="975" y1="0" y2="0"><stop offset="0.0000" stop-color="#9cace2"/><stop offset="0.0638" stop-color="#6682d5"/><stop offset="0.1142" stop-color="#4c6fd0"/><stop offset="0.2990" stop-color="#4a6ed0"/><stop offset="0.4367" stop-color="#6682d5"/><stop offset="0.4502" stop-color="#6682d5"/><stop offset="0.4535" stop-color="#8ea0de"/><stop offset="0.5913" stop-color="#90a2de"/><stop offset="0.6820" stop-color="#ced6f1"/><stop offset="0.7525" stop-color="#eef1fa"/><stop offset="0.8331" stop-color="#f8f9fe"/><stop offset="0.9978" stop-color="#f8f9fe"/></linearGradient><linearGradient id="r59" gradientUnits="userSpaceOnUse" x1="82" x2="975" y1="0" y2="0"><stop offset="0.0000" stop-color="#9cace2"/><stop offset="0.0672" stop-color="#6582d5"/><stop offset="0.1142" stop-color="#4e71d0"/><stop offset="0.3057" stop-color="#4e71d0"/><stop offset="0.4334" stop-color="#6984d5"/><stop offset="0.4535" stop-color="#6a85d5"/><stop offset="0.4569" stop-color="#8ea0de"/><stop offset="0.5879" stop-color="#8fa1de"/><stop offset="0.6786" stop-color="#ced6f0"/><stop offset="0.7492" stop-color="#eef0fa"/><stop offset="0.8264" stop-color="#f8f9fe"/><stop offset="0.9978" stop-color="#f8f9fe"/></linearGradient><linearGradient id="r60" gradientUnits="userSpaceOnUse" x1="82" x2="975" y1="0" y2="0"><stop offset="0.0000" stop-color="#9cace2"/><stop offset="0.0672" stop-color="#6783d5"/><stop offset="0.1142" stop-color="#5072d1"/><stop offset="0.3057" stop-color="#5173d1"/><stop offset="0.4334" stop-color="#6c87d6"/><stop offset="0.4569" stop-color="#6d87d6"/><stop offset="0.4602" stop-color="#8ea0de"/><stop offset="0.5845" stop-color="#8fa1de"/><stop offset="0.6753" stop-color="#cdd5f0"/><stop offset="0.7492" stop-color="#eef1fa"/><stop offset="0.8331" stop-color="#f8f9fe"/><stop offset="0.9978" stop-color="#f8f9fe"/></linearGradient><linearGradient id="r61" gradientUnits="userSpaceOnUse" x1="82" x2="975" y1="0" y2="0"><stop offset="0.0000" stop-color="#9dace2"/><stop offset="0.0672" stop-color="#6984d5"/><stop offset="0.1142" stop-color="#5374d1"/><stop offset="0.3057" stop-color="#5475d1"/><stop offset="0.4334" stop-color="#7089d7"/><stop offset="0.4602" stop-color="#7089d7"/><stop offset="0.4636" stop-color="#8ea0de"/><stop offset="0.5845" stop-color="#91a2de"/><stop offset="0.6753" stop-color="#ced6f0"/><stop offset="0.7492" stop-color="#eff1fa"/><stop offset="0.8365" stop-color="#f8f9fe"/><stop offset="0.9978" stop-color="#f8f9fe"/></linearGradient><linearGradient id="r62" gradientUnits="userSpaceOnUse" x1="82" x2="975" y1="0" y2="0"><stop offset="0.0000" stop-color="#9dade2"/><stop offset="0.0672" stop-color="#6b86d6"/><stop offset="0.1142" stop-color="#5676d2"/><stop offset="0.3057" stop-color="#5777d2"/><stop offset="0.4334" stop-color="#738bd7"/><stop offset="0.4670" stop-color="#738cd7"/><stop offset="0.4703" stop-color="#8ea0de"/><stop offset="0.5812" stop-color="#90a2de"/><stop offset="0.6719" stop-color="#cdd5f0"/><stop offset="0.7458" stop-color="#eef1fa"/><stop offset="0.8298" stop-color="#f8f9fe"/><stop offset="0.9978" stop-color="#f8f9fe"/></linearGradient><linearGradient id="r63" gradientUnits="userSpaceOnUse" x1="82" x2="975" y1="0" y2="0"><stop offset="0.0000" stop-color="#9eade2"/><stop offset="0.0672" stop-color="#6d87d6"/><stop offset="0.1142" stop-color="#5978d2"/><stop offset="0.3057" stop-color="#5a79d2"/><stop offset="0.4334" stop-color="#768ed8"/><stop offset="0.4703" stop-color="#768ed8"/><stop offset="0.4737" stop-color="#8599db"/><stop offset="0.5610" stop-color="#8ea0de"/><stop offset="0.5812" stop-color="#92a3de"/><stop offset="0.6719" stop-color="#ced6f1"/><stop offset="0.7458" stop-color="#eff1fa"/><stop offset="0.8331" stop-color="#f8f9fe"/><stop offset="0.9978" stop-color="#f8f9fe"/></linearGradient><linearGradient id="r64" gradientUnits="userSpaceOnUse" x1="82" x2="975" y1="0" y2="0"><stop offset="0.0000" stop-color="#9eaee2"/><stop offset="0.0672" stop-color="#6f89d6"/><stop offset="0.1142" stop-color="#5c7bd3"/><stop offset="0.3091" stop-color="#5e7cd3"/><stop offset="0.4334" stop-color="#7990d9"/><stop offset="0.4972" stop-color="#7c92d9"/><stop offset="0.5442" stop-color="#8ea0dd"/><stop offset="0.5778" stop-color="#91a2de"/><stop offset="0.6685" stop-color="#ced6f0"/><stop offset="0.7424" stop-color="#eef1fa"/><stop offset="0.8264" stop-color="#f8f9fe"/><stop offset="0.9978" stop-color="#f8f9fe"/></linearGradient><linearGradient id="r65" gradientUnits="userSpaceOnUse" x1="82" x2="975" y1="0" y2="0"><stop offset="0.0000" stop-color="#9faee2"/><stop offset="0.0672" stop-color="#718ad7"/><stop offset="0.1142" stop-color="#5f7dd3"/><stop offset="0.3091" stop-color="#617ed4"/><stop offset="0.4334" stop-color="#7c92d9"/><stop offset="0.5207" stop-color="#7f95da"/><stop offset="0.5510" stop-color="#8ea0dd"/><stop offset="0.5745" stop-color="#90a2de"/><stop offset="0.6652" stop-color="#cdd5f0"/><stop offset="0.7391" stop-color="#eef0fa"/><stop offset="0.8197" stop-color="#f8f9fe"/><stop offset="0.9978" stop-color="#f8f9fe"/></linearGradient><linearGradient id="r66" gradientUnits="userSpaceOnUse" x1="82" x2="975" y1="0" y2="0"><stop offset="0.0000" stop-color="#a0afe3"/><stop offset="0.0705" stop-color="#718ad7"/><stop offset="0.1176" stop-color="#617fd4"/><stop offset="0.3091" stop-color="#6481d4"/><stop offset="0.4334" stop-color="#7f95da"/><stop offset="0.5308" stop-color="#8297db"/><stop offset="0.5577" stop-color="#8ea0dd"/><stop offset="0.5745" stop-color="#92a3de"/><stop offset="0.6652" stop-color="#ced6f0"/><stop offset="0.7391" stop-color="#eef1fa"/><stop offset="0.8231" stop-color="#f8f9fe"/><stop offset="0.9978" stop-color="#f8f9fe"/></linearGradient><linearGradient id="r67" gradientUnits="userSpaceOnUse" x1="82" x2="975" y1="0" y2="0"><stop offset="0.0000" stop-color="#a0afe3"/><stop offset="0.0705" stop-color="#748cd7"/><stop offset="0.1176" stop-color="#6481d4"/><stop offset="0.3091" stop-color="#6783d5"/><stop offset="0.4334" stop-color="#8297db"/><stop offset="0.5375" stop-color="#8398db"/><stop offset="0.5644" stop-color="#8ea0dd"/><stop offset="0.6753" stop-color="#d4dbf2"/><stop offset="0.7458" stop-color="#f0f3fb"/><stop offset="0.8432" stop-color="#f8f9fe"/><stop offset="0.9978" stop-color="#f8f9fe"/></linearGradient><linearGradient id="r68" gradientUnits="userSpaceOnUse" x1="82" x2="975" y1="0" y2="0"><stop offset="0.0000" stop-color="#a1b0e3"/><stop offset="0.0705" stop-color="#768ed8"/><stop offset="0.1176" stop-color="#6883d5"/><stop offset="0.3091" stop-color="#6b85d6"/><stop offset="0.4334" stop-color="#869adb"/><stop offset="0.5476" stop-color="#879bdc"/><stop offset="0.5745" stop-color="#95a6e0"/><stop offset="0.6652" stop-color="#d0d8f1"/><stop offset="0.7391" stop-color="#eff2fa"/><stop offset="0.8298" stop-color="#f8f9fe"/><stop offset="0.9978" stop-color="#f8f9fe"/></linearGradient><linearGradient id="r69" gradientUnits="userSpaceOnUse" x1="82" x2="975" y1="0" y2="0"><stop offset="0.0000" stop-color="#a2b1e3"/><stop offset="0.0705" stop-color="#7890d8"/><stop offset="0.1176" stop-color="#6b86d6"/><stop offset="0.3091" stop-color="#6e88d6"/><stop offset="0.4334" stop-color="#899cdc"/><stop offset="0.5577" stop-color="#8a9ddc"/><stop offset="0.6484" stop-color="#c8d1ef"/><stop offset="0.7256" stop-color="#eceff9"/><stop offset="0.7928" stop-color="#f7f8fd"/><stop offset="0.9978" stop-color="#f8f9fe"/></linearGradient><linearGradient id="r70" gradientUnits="userSpaceOnUse" x1="82" x2="975" y1="0" y2="0"><stop offset="0.0000" stop-color="#a3b2e4"/><stop offset="0.0705" stop-color="#7b92d9"/><stop offset="0.1176" stop-color="#6e88d6"/><stop offset="0.3091" stop-color="#718ad7"/><stop offset="0.4334" stop-color="#8c9fdd"/><stop offset="0.5610" stop-color="#8fa1de"/><stop offset="0.6551" stop-color="#cdd5f0"/><stop offset="0.7324" stop-color="#eef1fa"/><stop offset="0.8197" stop-color="#f8f9fe"/><stop offset="0.9978" stop-color="#f8f9fe"/></linearGradient><linearGradient id="r71" gradientUnits="userSpaceOnUse" x1="82" x2="975" y1="0" y2="0"><stop offset="0.0000" stop-color="#a4b3e4"/><stop offset="0.0705" stop-color="#7d93da"/><stop offset="0.1142" stop-color="#718ad7"/><stop offset="0.3091" stop-color="#748cd8"/><stop offset="0.4334" stop-color="#8fa1de"/><stop offset="0.5610" stop-color="#90a2de"/><stop offset="0.6551" stop-color="#ced6f0"/><stop offset="0.7290" stop-color="#eef0fa"/><stop offset="0.8096" stop-color="#f8f9fe"/><stop offset="0.9978" stop-color="#f8f9fe"/></linearGradient></defs>
<g shape-rendering="crispEdges"><rect x="82" y="655.4" width="893" height="3.4" fill="url(#r0)"/><rect x="82" y="647.4" width="893" height="8.3" fill="url(#r1)"/><rect x="82" y="639.3" width="893" height="8.3" fill="url(#r2)"/><rect x="82" y="631.3" width="893" height="8.3" fill="url(#r3)"/><rect x="82" y="623.2" width="893" height="8.3" fill="url(#r4)"/><rect x="82" y="615.2" width="893" height="8.3" fill="url(#r5)"/><rect x="82" y="607.1" width="893" height="8.3" fill="url(#r6)"/><rect x="82" y="599.1" width="893" height="8.3" fill="url(#r7)"/><rect x="82" y="591" width="893" height="8.3" fill="url(#r8)"/><rect x="82" y="583" width="893" height="8.3" fill="url(#r9)"/><rect x="82" y="574.9" width="893" height="8.3" fill="url(#r10)"/><rect x="82" y="566.9" width="893" height="8.3" fill="url(#r11)"/><rect x="82" y="558.8" width="893" height="8.3" fill="url(#r12)"/><rect x="82" y="550.8" width="893" height="8.3" fill="url(#r13)"/><rect x="82" y="542.7" width="893" height="8.3" fill="url(#r14)"/><rect x="82" y="534.7" width="893" height="8.3" fill="url(#r15)"/><rect x="82" y="526.6" width="893" height="8.3" fill="url(#r16)"/><rect x="82" y="518.6" width="893" height="8.3" fill="url(#r17)"/><rect x="82" y="510.5" width="893" height="8.4" fill="url(#r18)"/><rect x="82" y="502.5" width="893" height="8.4" fill="url(#r19)"/><rect x="82" y="494.4" width="893" height="8.4" fill="url(#r20)"/><rect x="82" y="486.4" width="893" height="8.4" fill="url(#r21)"/><rect x="82" y="478.3" width="893" height="8.4" fill="url(#r22)"/><rect x="82" y="470.3" width="893" height="8.4" fill="url(#r23)"/><rect x="82" y="462.2" width="893" height="8.4" fill="url(#r24)"/><rect x="82" y="454.2" width="893" height="8.4" fill="url(#r25)"/><rect x="82" y="446.1" width="893" height="8.4" fill="url(#r26)"/><rect x="82" y="438.1" width="893" height="8.4" fill="url(#r27)"/><rect x="82" y="430" width="893" height="8.4" fill="url(#r28)"/><rect x="82" y="422" width="893" height="8.4" fill="url(#r29)"/><rect x="82" y="413.9" width="893" height="8.4" fill="url(#r30)"/><rect x="82" y="405.9" width="893" height="8.4" fill="url(#r31)"/><rect x="82" y="397.8" width="893" height="8.4" fill="url(#r32)"/><rect x="82" y="389.8" width="893" height="8.4" fill="url(#r33)"/><rect x="82" y="381.7" width="893" height="8.4" fill="url(#r34)"/><rect x="82" y="373.7" width="893" height="8.4" fill="url(#r35)"/><rect x="82" y="365.6" width="893" height="8.4" fill="url(#r36)"/><rect x="82" y="357.6" width="893" height="8.4" fill="url(#r37)"/><rect x="82" y="349.5" width="893" height="8.4" fill="url(#r38)"/><rect x="82" y="341.5" width="893" height="8.4" fill="url(#r39)"/><rect x="82" y="333.4" width="893" height="8.4" fill="url(#r40)"/><rect x="82" y="325.4" width="893" height="8.4" fill="url(#r41)"/><rect x="82" y="317.3" width="893" height="8.4" fill="url(#r42)"/><rect x="82" y="309.3" width="893" height="8.4" fill="url(#r43)"/><rect x="82" y="301.2" width="893" height="8.4" fill="url(#r44)"/><rect x="82" y="293.2" width="893" height="8.4" fill="url(#r45)"/><rect x="82" y="285.1" width="893" height="8.4" fill="url(#r46)"/><rect x="82" y="277.1" width="893" height="8.4" fill="url(#r47)"/><rect x="82" y="269" width="893" height="8.4" fill="url(#r48)"/><rect x="82" y="261" width="893" height="8.4" fill="url(#r49)"/><rect x="82" y="252.9" width="893" height="8.4" fill="url(#r50)"/><rect x="82" y="244.9" width="893" height="8.4" fill="url(#r51)"/><rect x="82" y="236.8" width="893" height="8.4" fill="url(#r52)"/><rect x="82" y="228.8" width="893" height="8.4" fill="url(#r53)"/><rect x="82" y="220.7" width="893" height="8.4" fill="url(#r54)"/><rect x="82" y="212.7" width="893" height="8.4" fill="url(#r55)"/><rect x="82" y="204.6" width="893" height="8.4" fill="url(#r56)"/><rect x="82" y="196.6" width="893" height="8.4" fill="url(#r57)"/><rect x="82" y="188.5" width="893" height="8.4" fill="url(#r58)"/><rect x="82" y="180.5" width="893" height="8.4" fill="url(#r59)"/><rect x="82" y="172.4" width="893" height="8.4" fill="url(#r60)"/><rect x="82" y="164.4" width="893" height="8.4" fill="url(#r61)"/><rect x="82" y="156.3" width="893" height="8.4" fill="url(#r62)"/><rect x="82" y="148.3" width="893" height="8.4" fill="url(#r63)"/><rect x="82" y="140.2" width="893" height="8.4" fill="url(#r64)"/><rect x="82" y="132.2" width="893" height="8.4" fill="url(#r65)"/><rect x="82" y="124.1" width="893" height="8.3" fill="url(#r66)"/><rect x="82" y="116.1" width="893" height="8.3" fill="url(#r67)"/><rect x="82" y="108" width="893" height="8.3" fill="url(#r68)"/><rect x="82" y="100" width="893" height="8.3" fill="url(#r69)"/><rect x="82" y="91.9" width="893" height="8.3" fill="url(#r70)"/><rect x="82" y="86" width="893" height="6.2" fill="url(#r71)"/></g>
<g fill="#1838b8"><ellipse cx="681" cy="289" rx="1.5" ry="2.5"/><ellipse cx="685" cy="354" rx="1.6" ry="3"/><ellipse cx="773" cy="385" rx="1.5" ry="2.5"/><ellipse cx="694" cy="442" rx="1.5" ry="3"/><ellipse cx="703" cy="458" rx="1.5" ry="3"/><ellipse cx="720" cy="458" rx="1.2" ry="2.5"/><ellipse cx="726" cy="490" rx="2" ry="3.5"/><ellipse cx="751" cy="498" rx="2" ry="3.5"/><ellipse cx="704" cy="498" rx="1.5" ry="3"/><ellipse cx="641" cy="522" rx="1.3" ry="2.5"/><ellipse cx="659" cy="546" rx="1.5" ry="3"/><ellipse cx="670" cy="558" rx="1.5" ry="4.5"/><ellipse cx="654" cy="585" rx="1.5" ry="3"/></g>
<g><defs><pattern id="st" width="3.3" height="8.05" patternUnits="userSpaceOnUse" x="0.5" y="647.4"><rect width="1.1" height="8.05" fill="#0b5fc0" fill-opacity="0.35"/></pattern></defs><g fill="#1a5ad0"><rect x="180.7" y="615.2" width="34.2" height="8.2"/><rect x="194.2" y="607.1" width="30.1" height="8.2"/><rect x="203.9" y="599.1" width="30" height="8.2"/><rect x="215.8" y="591" width="26" height="8.2"/><rect x="225.7" y="583" width="26" height="8.2"/><rect x="235.1" y="574.9" width="24.6" height="8.2"/><rect x="244.5" y="566.9" width="23" height="8.2"/><rect x="252.2" y="558.8" width="23" height="8.2"/><rect x="261" y="550.8" width="21.2" height="8.2"/><rect x="268.6" y="542.7" width="21" height="8.2"/><rect x="276.5" y="534.7" width="20.8" height="8.2"/><rect x="282.7" y="526.6" width="20.6" height="8.2"/><rect x="288.9" y="518.6" width="20.2" height="8.2"/><rect x="294.5" y="510.5" width="19.8" height="8.2"/><rect x="300" y="502.5" width="19.3" height="8.2"/><rect x="305.6" y="494.4" width="18.9" height="8.2"/><rect x="311.1" y="486.4" width="18.6" height="8.2"/><rect x="316.7" y="478.3" width="18.2" height="8.2"/><rect x="322.2" y="470.3" width="17.8" height="8.2"/><rect x="327.8" y="462.2" width="17.4" height="8.2"/><rect x="333.1" y="454.2" width="17.1" height="8.2"/><rect x="338.5" y="446.1" width="16.7" height="8.2"/><rect x="343.9" y="438.1" width="16.3" height="8.2"/><rect x="349.2" y="430" width="16" height="8.2"/><rect x="354.5" y="422" width="15.9" height="8.2"/><rect x="359.7" y="413.9" width="15.8" height="8.2"/><rect x="364.9" y="405.9" width="15.7" height="8.2"/><rect x="370.1" y="397.8" width="15.6" height="8.2"/><rect x="375.2" y="389.8" width="15.5" height="8.2"/><rect x="380.4" y="381.7" width="15.5" height="8.2"/><rect x="385.6" y="373.7" width="15.4" height="8.2"/><rect x="390.7" y="365.6" width="15.3" height="8.2"/><rect x="395.9" y="357.6" width="15.2" height="8.2"/><rect x="401" y="349.5" width="15.1" height="8.2"/><rect x="406.2" y="341.5" width="15" height="8.2"/><rect x="410.1" y="333.4" width="14.9" height="8.2"/><rect x="414" y="325.4" width="14.8" height="8.2"/><rect x="417.8" y="317.3" width="14.8" height="8.2"/><rect x="421.7" y="309.3" width="14.7" height="8.2"/><rect x="425.5" y="301.2" width="14.6" height="8.2"/><rect x="429.4" y="293.2" width="14.5" height="8.2"/><rect x="433.3" y="285.1" width="14.4" height="8.2"/><rect x="437.1" y="277.1" width="14.4" height="8.2"/><rect x="441" y="269" width="14.3" height="8.2"/><rect x="444.8" y="261" width="14.2" height="8.2"/><rect x="448.7" y="252.9" width="14.1" height="8.2"/><rect x="452.5" y="244.9" width="14" height="8.2"/><rect x="456" y="236.8" width="14" height="8.2"/><rect x="459.1" y="228.8" width="13.9" height="8.2"/><rect x="462.2" y="220.7" width="13.8" height="8.2"/><rect x="465.4" y="212.7" width="13.7" height="8.2"/><rect x="469.5" y="204.6" width="13.6" height="8.2"/><rect x="473.5" y="196.6" width="13.5" height="8.2"/><rect x="477.5" y="188.5" width="13.4" height="8.2"/><rect x="481.5" y="180.5" width="13.3" height="8.2"/><rect x="485.3" y="172.4" width="13.2" height="8.2"/><rect x="489.2" y="164.4" width="13.1" height="8.2"/><rect x="493.1" y="156.3" width="13" height="8.2"/><rect x="223.3" y="615.2" width="45" height="8.2"/><rect x="241.9" y="607.1" width="40.1" height="8.2"/><rect x="257.6" y="599.1" width="42" height="8.2"/><rect x="274.5" y="591" width="35" height="8.2"/><rect x="286" y="583" width="32" height="8.2"/><rect x="300.1" y="574.9" width="31" height="8.2"/><rect x="314.1" y="566.9" width="30" height="8.2"/><rect x="323.5" y="558.8" width="29.5" height="8.2"/><rect x="334.8" y="550.8" width="29" height="8.2"/><rect x="346.1" y="542.7" width="28.4" height="8.2"/><rect x="357.4" y="534.7" width="27.9" height="8.2"/><rect x="367.2" y="526.6" width="27.3" height="8.2"/><rect x="377.1" y="518.6" width="26.7" height="8.2"/><rect x="386.8" y="510.5" width="26.1" height="8.2"/><rect x="395.3" y="502.5" width="25.5" height="8.2"/><rect x="403.7" y="494.4" width="24.9" height="8.2"/><rect x="412.2" y="486.4" width="24.5" height="8.2"/><rect x="420.6" y="478.3" width="24.1" height="8.2"/><rect x="429.3" y="470.3" width="23.6" height="8.2"/><rect x="436" y="462.2" width="23.2" height="8.2"/><rect x="444.4" y="454.2" width="22.8" height="8.2"/><rect x="452.6" y="446.1" width="22.4" height="8.2"/><rect x="459" y="438.1" width="22" height="8.2"/><rect x="467.6" y="430" width="21.8" height="8.2"/><rect x="474.2" y="422" width="21.6" height="8.2"/><rect x="482.2" y="413.9" width="21.4" height="8.2"/><rect x="488.9" y="405.9" width="21.2" height="8.2"/><rect x="495.5" y="397.8" width="21" height="8.2"/><rect x="501.8" y="389.8" width="20.9" height="8.2"/><rect x="508.2" y="381.7" width="20.7" height="8.2"/><rect x="514" y="373.7" width="20.6" height="8.2"/><rect x="520.8" y="365.6" width="20.4" height="8.2"/><rect x="529" y="357.6" width="20.2" height="8.2"/><rect x="536" y="349.5" width="20.1" height="8.2"/><rect x="541.8" y="341.5" width="20" height="8.2"/><rect x="546.4" y="333.4" width="19.9" height="8.2"/><rect x="551.3" y="325.4" width="19.8" height="8.2"/><rect x="556.1" y="317.3" width="19.7" height="8.2"/><rect x="560.8" y="309.3" width="19.6" height="8.2"/><rect x="565.8" y="301.2" width="19.6" height="8.2"/><rect x="570.9" y="293.2" width="19.5" height="8.2"/><rect x="576.1" y="285.1" width="19.4" height="8.2"/><rect x="581.3" y="277.1" width="19.3" height="8.2"/><rect x="587" y="269" width="19.2" height="8.2"/><rect x="592.6" y="261" width="19.1" height="8.2"/><rect x="598.3" y="252.9" width="19.1" height="8.2"/><rect x="604" y="244.9" width="19" height="8.2"/><rect x="610" y="236.8" width="18.9" height="8.2"/><rect x="617" y="228.8" width="18.8" height="8.2"/><rect x="624" y="220.7" width="18.7" height="8.2"/><rect x="628.8" y="212.7" width="18.6" height="8.2"/><rect x="633.3" y="204.6" width="18.5" height="8.2"/><rect x="638" y="196.6" width="18.5" height="8.2"/><rect x="643.6" y="188.5" width="18.4" height="8.2"/><rect x="649.1" y="180.5" width="18.3" height="8.2"/><rect x="654.7" y="172.4" width="18.2" height="8.2"/><rect x="660.2" y="164.4" width="18.1" height="8.2"/><rect x="665.8" y="156.3" width="18" height="8.2"/><rect x="265.5" y="615.2" width="75.7" height="8.2"/><rect x="303.7" y="607.1" width="59.3" height="8.2"/><rect x="332.2" y="599.1" width="58" height="8.2"/><rect x="353.1" y="591" width="49.1" height="8.2"/><rect x="376.2" y="583" width="41.6" height="8.2"/><rect x="395.1" y="574.9" width="39" height="8.2"/><rect x="411.3" y="566.9" width="38.8" height="8.2"/><rect x="428.7" y="558.8" width="37.2" height="8.2"/><rect x="442.6" y="550.8" width="35.6" height="8.2"/><rect x="460.4" y="542.7" width="34" height="8.2"/><rect x="473.8" y="534.7" width="33.5" height="8.2"/><rect x="488.1" y="526.6" width="33" height="8.2"/><rect x="501.9" y="518.6" width="32.5" height="8.2"/><rect x="513.1" y="510.5" width="31.9" height="8.2"/><rect x="526.2" y="502.5" width="31.4" height="8.2"/><rect x="537.6" y="494.4" width="30.9" height="8.2"/><rect x="549.8" y="486.4" width="30.4" height="8.2"/><rect x="559.4" y="478.3" width="29.9" height="8.2"/><rect x="572.5" y="470.3" width="29.5" height="8.2"/><rect x="583.5" y="462.2" width="29" height="8.2"/><rect x="594.1" y="454.2" width="28.5" height="8.2"/><rect x="604.6" y="446.1" width="28" height="8.2"/><rect x="613.6" y="438.1" width="27.7" height="8.2"/><rect x="625.2" y="430" width="27.4" height="8.2"/><rect x="636.5" y="422" width="27" height="8.2"/><rect x="645.7" y="413.9" width="26.7" height="8.2"/><rect x="655.9" y="405.9" width="26.4" height="8.2"/><rect x="665.1" y="397.8" width="26.1" height="8.2"/><rect x="674.3" y="389.8" width="25.8" height="8.2"/><rect x="683.5" y="381.7" width="25.5" height="8.2"/><rect x="693.2" y="373.7" width="25.3" height="8.2"/><rect x="702.9" y="365.6" width="25" height="8.2"/><rect x="711.1" y="357.6" width="24.7" height="8.2"/><rect x="720.2" y="349.5" width="24.5" height="8.2"/><rect x="728.4" y="341.5" width="24.2" height="8.2"/><rect x="736.7" y="333.4" width="23.9" height="8.2"/><rect x="745.8" y="325.4" width="23.7" height="8.2"/><rect x="754.7" y="317.3" width="23.5" height="8.2"/><rect x="761.1" y="309.3" width="23.3" height="8.2"/><rect x="770.2" y="301.2" width="23.1" height="8.2"/><rect x="778.3" y="293.2" width="22.9" height="8.2"/><rect x="786.5" y="285.1" width="22.7" height="8.2"/><rect x="794.7" y="277.1" width="22.6" height="8.2"/><rect x="803.5" y="269" width="22.4" height="8.2"/><rect x="810.6" y="261" width="22.2" height="8.2"/><rect x="816.1" y="252.9" width="22" height="8.2"/><rect x="826.3" y="244.9" width="18.8" height="8.2"/><rect x="832.8" y="236.8" width="15.1" height="8.2"/><rect x="838.1" y="228.8" width="10" height="8.2"/></g><g><rect x="117" y="647.6" width="4.4" height="7.6" fill="#95be71"/><rect x="121" y="647.6" width="36.4" height="7.6" fill="#f8cc33"/><rect x="157" y="647.6" width="28.4" height="7.6" fill="#84be79"/><rect x="185" y="647.6" width="26.4" height="7.6" fill="#40b89b"/><rect x="211" y="647.6" width="26.4" height="7.6" fill="#1eafb3"/><rect x="237" y="647.6" width="28.4" height="7.6" fill="#099dcc"/><rect x="265" y="647.6" width="27.4" height="7.6" fill="#0e8fd1"/><rect x="121" y="639.6" width="5.4" height="7.6" fill="#74bd81"/><rect x="126" y="639.6" width="44.4" height="7.6" fill="#fcdc24"/><rect x="170" y="639.6" width="41.4" height="7.6" fill="#f8cc33"/><rect x="211" y="639.6" width="26.4" height="7.6" fill="#95be71"/><rect x="237" y="639.6" width="33.4" height="7.6" fill="#26b3ac"/><rect x="270" y="639.6" width="30.4" height="7.6" fill="#0ba2c8"/><rect x="143" y="631.5" width="4.4" height="7.6" fill="#95be71"/><rect x="147" y="631.5" width="39.4" height="7.6" fill="#fbe61d"/><rect x="186" y="631.5" width="47.4" height="7.6" fill="#f8cc33"/><rect x="233" y="631.5" width="37.4" height="7.6" fill="#40b89b"/><rect x="270" y="631.5" width="40.4" height="7.6" fill="#26b3ac"/><rect x="310" y="631.5" width="20.4" height="7.6" fill="#099dcc"/><rect x="162" y="623.5" width="4.4" height="7.6" fill="#95be71"/><rect x="166" y="623.5" width="34.4" height="7.6" fill="#fbe220"/><rect x="200" y="623.5" width="51.4" height="7.6" fill="#f8cc33"/><rect x="251" y="623.5" width="59.4" height="7.6" fill="#52ba92"/><rect x="310" y="623.5" width="30.4" height="7.6" fill="#2eb7a4"/><rect x="340" y="623.5" width="20.4" height="7.6" fill="#099dcc"/><rect x="182.7" y="615.4" width="30.2" height="7.6" rx="1.5" fill="#e2c04b"/><rect x="196.2" y="607.4" width="26.1" height="7.6" rx="1.5" fill="#dabe52"/><rect x="205.9" y="599.3" width="26" height="7.6" rx="1.5" fill="#d5bc55"/><rect x="217.8" y="591.2" width="22" height="7.6" rx="1.5" fill="#d1bb59"/><rect x="227.7" y="583.2" width="22" height="7.6" rx="1.5" fill="#c2bc5f"/><rect x="237.1" y="575.1" width="20.6" height="7.6" rx="1.5" fill="#b3bd65"/><rect x="246.5" y="567.1" width="19" height="7.6" rx="1.5" fill="#abbd68"/><rect x="254.2" y="559" width="19" height="7.6" rx="1.5" fill="#a4be6b"/><rect x="263" y="551" width="17.2" height="7.6" rx="1.5" fill="#9cbe6e"/><rect x="270.6" y="543" width="17" height="7.6" rx="1.5" fill="#95be71"/><rect x="278.5" y="534.9" width="16.8" height="7.6" rx="1.5" fill="#8abe77"/><rect x="284.7" y="526.9" width="16.6" height="7.6" rx="1.5" fill="#7fbd7c"/><rect x="290.9" y="518.8" width="16.2" height="7.6" rx="1.5" fill="#73bd81"/><rect x="296.5" y="510.7" width="15.8" height="7.6" rx="1.5" fill="#61bb8a"/><rect x="302" y="502.7" width="15.3" height="7.6" rx="1.5" fill="#4fba93"/><rect x="307.6" y="494.6" width="14.9" height="7.6" rx="1.5" fill="#3cb89d"/><rect x="313.1" y="486.6" width="14.6" height="7.6" rx="1.5" fill="#2cb6a6"/><rect x="318.7" y="478.5" width="14.2" height="7.6" rx="1.5" fill="#23b2ae"/><rect x="324.2" y="470.5" width="13.8" height="7.6" rx="1.5" fill="#1aadb6"/><rect x="329.8" y="462.4" width="13.4" height="7.6" rx="1.5" fill="#14aabd"/><rect x="335.1" y="454.4" width="13.1" height="7.6" rx="1.5" fill="#10a8c0"/><rect x="340.5" y="446.3" width="12.7" height="7.6" rx="1.5" fill="#0da6c4"/><rect x="345.9" y="438.3" width="12.3" height="7.6" rx="1.5" fill="#0ca4c6"/><rect x="351.2" y="430.2" width="12" height="7.6" rx="1.5" fill="#0ba2c8"/><rect x="356.5" y="422.2" width="11.9" height="7.6" rx="1.5" fill="#0a9fcb"/><rect x="361.7" y="414.1" width="11.8" height="7.6" rx="1.5" fill="#0a9bcd"/><rect x="366.9" y="406.1" width="11.7" height="7.6" rx="1.5" fill="#0b97ce"/><rect x="372.1" y="398" width="11.6" height="7.6" rx="1.5" fill="#0c93cf"/><rect x="377.2" y="390" width="11.5" height="7.6" rx="1.5" fill="#0e90d1"/><rect x="382.4" y="381.9" width="11.5" height="7.6" rx="1.5" fill="#0f8cd2"/><rect x="387.6" y="373.9" width="11.4" height="7.6" rx="1.5" fill="#1189d3"/><rect x="392.7" y="365.8" width="11.3" height="7.6" rx="1.5" fill="#1285d5"/><rect x="397.9" y="357.8" width="11.2" height="7.6" rx="1.5" fill="#1481d6"/><rect x="403" y="349.7" width="11.1" height="7.6" rx="1.5" fill="#147ed7"/><rect x="408.2" y="341.7" width="11" height="7.6" rx="1.5" fill="#137ad7"/><rect x="412.1" y="333.6" width="10.9" height="7.6" rx="1.5" fill="#1377d8"/><rect x="416" y="325.6" width="10.8" height="7.6" rx="1.5" fill="#1274d9"/><rect x="419.8" y="317.5" width="10.8" height="7.6" rx="1.5" fill="#1272d9"/><rect x="423.7" y="309.5" width="10.7" height="7.6" rx="1.5" fill="#126fda"/><rect x="427.5" y="301.4" width="10.6" height="7.6" rx="1.5" fill="#116dda"/><rect x="431.4" y="293.4" width="10.5" height="7.6" rx="1.5" fill="#116adb"/><rect x="435.3" y="285.3" width="10.4" height="7.6" rx="1.5" fill="#1168db"/><rect x="439.1" y="277.3" width="10.4" height="7.6" rx="1.5" fill="#1066dc"/><rect x="443" y="269.2" width="10.3" height="7.6" rx="1.5" fill="#1064dc"/><rect x="446.8" y="261.2" width="10.2" height="7.6" rx="1.5" fill="#1162da"/><rect x="450.7" y="253.1" width="10.1" height="7.6" rx="1.5" fill="#125fd8"/><rect x="454.5" y="245.1" width="10" height="7.6" rx="1.5" fill="#135cd6"/><rect x="458" y="237" width="10" height="7.6" rx="1.5" fill="#135ad4"/><rect x="461.1" y="229" width="9.9" height="7.6" rx="1.5" fill="#1458d2"/><rect x="464.2" y="220.9" width="9.8" height="7.6" rx="1.5" fill="#1457d1"/><rect x="467.4" y="212.9" width="9.7" height="7.6" rx="1.5" fill="#1555d0"/><rect x="471.5" y="204.8" width="9.6" height="7.6" rx="1.5" fill="#1653ce"/><rect x="475.5" y="196.8" width="9.5" height="7.6" rx="1.5" fill="#1652cc"/><rect x="479.5" y="188.7" width="9.4" height="7.6" rx="1.5" fill="#1850c9"/><rect x="483.5" y="180.7" width="9.3" height="7.6" rx="1.5" fill="#194ec5"/><rect x="487.3" y="172.6" width="9.2" height="7.6" rx="1.5" fill="#1b4cc2"/><rect x="491.2" y="164.6" width="9.1" height="7.6" rx="1.5" fill="#1c4abe"/><rect x="495.1" y="156.5" width="9" height="7.6" rx="1.5" fill="#1e48bb"/><rect x="225.3" y="615.4" width="41" height="7.6" rx="1.5" fill="#d1bb59"/><rect x="243.9" y="607.4" width="36.1" height="7.6" rx="1.5" fill="#d1bb59"/><rect x="259.6" y="599.3" width="38" height="7.6" rx="1.5" fill="#d1bb59"/><rect x="276.5" y="591.2" width="31" height="7.6" rx="1.5" fill="#d0bb59"/><rect x="288" y="583.2" width="28" height="7.6" rx="1.5" fill="#cbbb5b"/><rect x="302.1" y="575.1" width="27" height="7.6" rx="1.5" fill="#c6bc5d"/><rect x="316.1" y="567.1" width="26" height="7.6" rx="1.5" fill="#c1bc60"/><rect x="325.5" y="559" width="25.5" height="7.6" rx="1.5" fill="#bcbc61"/><rect x="336.8" y="551" width="25" height="7.6" rx="1.5" fill="#b7bd63"/><rect x="348.1" y="543" width="24.4" height="7.6" rx="1.5" fill="#b2bd65"/><rect x="359.4" y="534.9" width="23.9" height="7.6" rx="1.5" fill="#aabd68"/><rect x="369.2" y="526.9" width="23.3" height="7.6" rx="1.5" fill="#a3be6c"/><rect x="379.1" y="518.8" width="22.7" height="7.6" rx="1.5" fill="#9bbe6f"/><rect x="388.8" y="510.7" width="22.1" height="7.6" rx="1.5" fill="#92be72"/><rect x="397.3" y="502.7" width="21.5" height="7.6" rx="1.5" fill="#81bd7a"/><rect x="405.7" y="494.6" width="20.9" height="7.6" rx="1.5" fill="#71bd83"/><rect x="414.2" y="486.6" width="20.5" height="7.6" rx="1.5" fill="#60bb8b"/><rect x="422.6" y="478.5" width="20.1" height="7.6" rx="1.5" fill="#50ba93"/><rect x="431.3" y="470.5" width="19.6" height="7.6" rx="1.5" fill="#3eb89c"/><rect x="438" y="462.4" width="19.2" height="7.6" rx="1.5" fill="#2db7a5"/><rect x="446.4" y="454.4" width="18.8" height="7.6" rx="1.5" fill="#25b3ac"/><rect x="454.6" y="446.3" width="18.4" height="7.6" rx="1.5" fill="#1dafb4"/><rect x="461" y="438.3" width="18" height="7.6" rx="1.5" fill="#15abbb"/><rect x="469.6" y="430.2" width="17.8" height="7.6" rx="1.5" fill="#12a9be"/><rect x="476.2" y="422.2" width="17.6" height="7.6" rx="1.5" fill="#0fa8c1"/><rect x="484.2" y="414.1" width="17.4" height="7.6" rx="1.5" fill="#0da6c4"/><rect x="490.9" y="406.1" width="17.2" height="7.6" rx="1.5" fill="#0ca4c5"/><rect x="497.5" y="398" width="17" height="7.6" rx="1.5" fill="#0ba2c7"/><rect x="503.8" y="390" width="16.9" height="7.6" rx="1.5" fill="#0aa0c9"/><rect x="510.2" y="381.9" width="16.7" height="7.6" rx="1.5" fill="#099dcc"/><rect x="516" y="373.9" width="16.6" height="7.6" rx="1.5" fill="#0a99cd"/><rect x="522.8" y="365.8" width="16.4" height="7.6" rx="1.5" fill="#0c95cf"/><rect x="531" y="357.8" width="16.2" height="7.6" rx="1.5" fill="#0d91d0"/><rect x="538" y="349.7" width="16.1" height="7.6" rx="1.5" fill="#0f8ed1"/><rect x="543.8" y="341.7" width="16" height="7.6" rx="1.5" fill="#108ad3"/><rect x="548.4" y="333.6" width="15.9" height="7.6" rx="1.5" fill="#1187d4"/><rect x="553.3" y="325.6" width="15.8" height="7.6" rx="1.5" fill="#1384d5"/><rect x="558.1" y="317.5" width="15.7" height="7.6" rx="1.5" fill="#1481d6"/><rect x="562.8" y="309.5" width="15.6" height="7.6" rx="1.5" fill="#147ed7"/><rect x="567.8" y="301.4" width="15.6" height="7.6" rx="1.5" fill="#137bd7"/><rect x="572.9" y="293.4" width="15.5" height="7.6" rx="1.5" fill="#1378d8"/><rect x="578.1" y="285.3" width="15.4" height="7.6" rx="1.5" fill="#1275d8"/><rect x="583.3" y="277.3" width="15.3" height="7.6" rx="1.5" fill="#1272d9"/><rect x="589" y="269.2" width="15.2" height="7.6" rx="1.5" fill="#126fda"/><rect x="594.6" y="261.2" width="15.1" height="7.6" rx="1.5" fill="#116cda"/><rect x="600.3" y="253.1" width="15.1" height="7.6" rx="1.5" fill="#1169db"/><rect x="606" y="245.1" width="15" height="7.6" rx="1.5" fill="#1066dc"/><rect x="612" y="237" width="14.9" height="7.6" rx="1.5" fill="#1063db"/><rect x="619" y="229" width="14.8" height="7.6" rx="1.5" fill="#125fd8"/><rect x="626" y="220.9" width="14.7" height="7.6" rx="1.5" fill="#135cd5"/><rect x="630.8" y="212.9" width="14.6" height="7.6" rx="1.5" fill="#1458d2"/><rect x="635.3" y="204.8" width="14.5" height="7.6" rx="1.5" fill="#1555cf"/><rect x="640" y="196.8" width="14.5" height="7.6" rx="1.5" fill="#1651cc"/><rect x="645.6" y="188.7" width="14.4" height="7.6" rx="1.5" fill="#1850c9"/><rect x="651.1" y="180.7" width="14.3" height="7.6" rx="1.5" fill="#194ec5"/><rect x="656.7" y="172.6" width="14.2" height="7.6" rx="1.5" fill="#1b4cc2"/><rect x="662.2" y="164.6" width="14.1" height="7.6" rx="1.5" fill="#1c4abe"/><rect x="667.8" y="156.5" width="14" height="7.6" rx="1.5" fill="#1e48bb"/><rect x="267.5" y="615.4" width="71.7" height="7.6" rx="1.5" fill="#0ba2c7"/><rect x="305.7" y="607.4" width="55.3" height="7.6" rx="1.5" fill="#0da7c3"/><rect x="334.2" y="599.3" width="54" height="7.6" rx="1.5" fill="#11a9bf"/><rect x="355.1" y="591.2" width="45.1" height="7.6" rx="1.5" fill="#15abbb"/><rect x="378.2" y="583.2" width="37.6" height="7.6" rx="1.5" fill="#11a9bf"/><rect x="397.1" y="575.1" width="35" height="7.6" rx="1.5" fill="#0da7c3"/><rect x="413.3" y="567.1" width="34.8" height="7.6" rx="1.5" fill="#0ca3c6"/><rect x="430.7" y="559" width="33.2" height="7.6" rx="1.5" fill="#0aa0c9"/><rect x="444.6" y="551" width="31.6" height="7.6" rx="1.5" fill="#099dcc"/><rect x="462.4" y="543" width="30" height="7.6" rx="1.5" fill="#0a9bcd"/><rect x="475.8" y="534.9" width="29.5" height="7.6" rx="1.5" fill="#0b98ce"/><rect x="490.1" y="526.9" width="29" height="7.6" rx="1.5" fill="#0c96cf"/><rect x="503.9" y="518.8" width="28.5" height="7.6" rx="1.5" fill="#0c94cf"/><rect x="515.1" y="510.7" width="27.9" height="7.6" rx="1.5" fill="#0d91d0"/><rect x="528.2" y="502.7" width="27.4" height="7.6" rx="1.5" fill="#0e8fd1"/><rect x="539.6" y="494.6" width="26.9" height="7.6" rx="1.5" fill="#0f8dd2"/><rect x="551.8" y="486.6" width="26.4" height="7.6" rx="1.5" fill="#108bd2"/><rect x="561.4" y="478.5" width="25.9" height="7.6" rx="1.5" fill="#1189d3"/><rect x="574.5" y="470.5" width="25.5" height="7.6" rx="1.5" fill="#1285d5"/><rect x="585.5" y="462.4" width="25" height="7.6" rx="1.5" fill="#1481d6"/><rect x="596.1" y="454.4" width="24.5" height="7.6" rx="1.5" fill="#137cd7"/><rect x="606.6" y="446.3" width="24" height="7.6" rx="1.5" fill="#1378d8"/><rect x="615.6" y="438.3" width="23.7" height="7.6" rx="1.5" fill="#1275d8"/><rect x="627.2" y="430.2" width="23.4" height="7.6" rx="1.5" fill="#1271d9"/><rect x="638.5" y="422.2" width="23" height="7.6" rx="1.5" fill="#116eda"/><rect x="647.7" y="414.1" width="22.7" height="7.6" rx="1.5" fill="#116bdb"/><rect x="657.9" y="406.1" width="22.4" height="7.6" rx="1.5" fill="#1169db"/><rect x="667.1" y="398" width="22.1" height="7.6" rx="1.5" fill="#1067db"/><rect x="676.3" y="390" width="21.8" height="7.6" rx="1.5" fill="#1065dc"/><rect x="685.5" y="381.9" width="21.5" height="7.6" rx="1.5" fill="#1063db"/><rect x="695.2" y="373.9" width="21.3" height="7.6" rx="1.5" fill="#1162da"/><rect x="704.9" y="365.8" width="21" height="7.6" rx="1.5" fill="#1160d9"/><rect x="713.1" y="357.8" width="20.7" height="7.6" rx="1.5" fill="#125fd8"/><rect x="722.2" y="349.7" width="20.5" height="7.6" rx="1.5" fill="#125dd7"/><rect x="730.4" y="341.7" width="20.2" height="7.6" rx="1.5" fill="#135cd5"/><rect x="738.7" y="333.6" width="19.9" height="7.6" rx="1.5" fill="#135bd4"/><rect x="747.8" y="325.6" width="19.7" height="7.6" rx="1.5" fill="#1459d3"/><rect x="756.7" y="317.5" width="19.5" height="7.6" rx="1.5" fill="#1458d2"/><rect x="763.1" y="309.5" width="19.3" height="7.6" rx="1.5" fill="#1556d0"/><rect x="772.2" y="301.4" width="19.1" height="7.6" rx="1.5" fill="#1555cf"/><rect x="780.3" y="293.4" width="18.9" height="7.6" rx="1.5" fill="#1653ce"/><rect x="788.5" y="285.3" width="18.7" height="7.6" rx="1.5" fill="#1652cd"/><rect x="796.7" y="277.3" width="18.6" height="7.6" rx="1.5" fill="#1750ca"/><rect x="805.5" y="269.2" width="18.4" height="7.6" rx="1.5" fill="#184fc7"/><rect x="812.6" y="261.2" width="18.2" height="7.6" rx="1.5" fill="#1a4ec5"/><rect x="818.1" y="253.1" width="18" height="7.6" rx="1.5" fill="#1b4cc2"/><rect x="828.3" y="245.1" width="14.8" height="7.6" rx="1.5" fill="#1c4bbf"/><rect x="834.8" y="237" width="11.1" height="7.6" rx="1.5" fill="#1d49bd"/><rect x="840.1" y="229" width="6" height="7.6" rx="1.5" fill="#1e48ba"/></g><g><rect x="185.7" y="615.8" width="24.2" height="6.8" rx="2" fill="#fbe61d"/><rect x="199.2" y="607.8" width="20.1" height="6.8" rx="2" fill="#fcdc24"/><rect x="208.9" y="599.7" width="20" height="6.8" rx="2" fill="#fcd727"/><rect x="220.8" y="591.6" width="16" height="6.8" rx="2" fill="#fdd22b"/><rect x="230.7" y="583.6" width="16" height="6.8" rx="2" fill="#f8cc33"/><rect x="240.1" y="575.5" width="14.6" height="6.8" rx="2" fill="#f4c63b"/><rect x="249.5" y="567.5" width="13" height="6.8" rx="2" fill="#efc43f"/><rect x="257.2" y="559.4" width="13" height="6.8" rx="2" fill="#ebc343"/><rect x="266" y="551.4" width="11.2" height="6.8" rx="2" fill="#e6c147"/><rect x="273.6" y="543.4" width="11" height="6.8" rx="2" fill="#e2c04b"/><rect x="281.5" y="535.3" width="10.8" height="6.8" rx="2" fill="#dcbe50"/><rect x="287.7" y="527.2" width="10.6" height="6.8" rx="2" fill="#d6bd55"/><rect x="293.9" y="519.2" width="10.2" height="6.8" rx="2" fill="#d0bb59"/><rect x="299.5" y="511.1" width="9.8" height="6.8" rx="2" fill="#c0bc60"/><rect x="305" y="503.1" width="9.3" height="6.8" rx="2" fill="#b1bd66"/><rect x="310.6" y="495" width="8.9" height="6.8" rx="2" fill="#a1be6c"/><rect x="316.1" y="487" width="8.6" height="6.8" rx="2" fill="#90be73"/><rect x="321.7" y="478.9" width="8.2" height="6.8" rx="2" fill="#7fbd7c"/><rect x="327.2" y="470.9" width="7.8" height="6.8" rx="2" fill="#6dbc85"/><rect x="332.8" y="462.9" width="7.4" height="6.8" rx="2" fill="#5fbb8b"/><rect x="338.1" y="454.8" width="7.2" height="6.8" rx="2" fill="#58ba8f"/><rect x="343.4" y="446.8" width="7" height="6.8" rx="2" fill="#50ba93"/><rect x="348.6" y="438.7" width="6.8" height="6.8" rx="2" fill="#47b997"/><rect x="353.9" y="430.6" width="6.6" height="6.8" rx="2" fill="#3fb89c"/><rect x="359.1" y="422.6" width="6.5" height="6.8" rx="2" fill="#34b8a1"/><rect x="364.3" y="414.5" width="6.5" height="6.8" rx="2" fill="#2cb6a6"/><rect x="369.6" y="406.5" width="6.4" height="6.8" rx="2" fill="#27b4aa"/><rect x="374.7" y="398.4" width="6.4" height="6.8" rx="2" fill="#23b1ae"/><rect x="379.8" y="390.4" width="6.3" height="6.8" rx="2" fill="#1fafb2"/><rect x="385" y="382.3" width="6.3" height="6.8" rx="2" fill="#1aadb6"/><rect x="390.1" y="374.3" width="6.2" height="6.8" rx="2" fill="#16abba"/><rect x="395.2" y="366.2" width="6.2" height="6.8" rx="2" fill="#12a9be"/><rect x="400.4" y="358.2" width="6.2" height="6.8" rx="2" fill="#0da7c3"/><rect x="405.5" y="350.1" width="6.1" height="6.8" rx="2" fill="#0ca5c5"/><rect x="410.7" y="342.1" width="6.1" height="6.8" rx="2" fill="#0ba2c7"/><rect x="414.6" y="334" width="6" height="6.8" rx="2" fill="#0aa0c9"/><rect x="418.4" y="326" width="6" height="6.8" rx="2" fill="#0a9fcb"/><rect x="422.3" y="317.9" width="5.9" height="6.8" rx="2" fill="#099dcc"/><rect x="426.1" y="309.9" width="5.9" height="6.8" rx="2" fill="#0a9acd"/><rect x="429.9" y="301.8" width="5.8" height="6.8" rx="2" fill="#0b98ce"/><rect x="433.8" y="293.8" width="5.8" height="6.8" rx="2" fill="#0c95cf"/><rect x="437.6" y="285.7" width="5.7" height="6.8" rx="2" fill="#0c93cf"/><rect x="441.4" y="277.7" width="5.7" height="6.8" rx="2" fill="#0d91d0"/><rect x="445.3" y="269.6" width="5.7" height="6.8" rx="2" fill="#0e8fd1"/><rect x="449.1" y="261.6" width="5.6" height="6.8" rx="2" fill="#0f8dd2"/><rect x="453" y="253.5" width="5.6" height="6.8" rx="2" fill="#108bd2"/><rect x="456.8" y="245.5" width="5.5" height="6.8" rx="2" fill="#1189d3"/><rect x="460.2" y="237.4" width="5.5" height="6.8" rx="2" fill="#1187d4"/><rect x="463.3" y="229.4" width="5.4" height="6.8" rx="2" fill="#1286d4"/><rect x="466.4" y="221.3" width="5.4" height="6.8" rx="2" fill="#1285d5"/><rect x="469.6" y="213.3" width="5.3" height="6.8" rx="2" fill="#1383d5"/><rect x="473.6" y="205.2" width="5.3" height="6.8" rx="2" fill="#1482d6"/><rect x="477.6" y="197.2" width="5.2" height="6.8" rx="2" fill="#1481d6"/><rect x="481.7" y="189.1" width="5.2" height="6.8" rx="2" fill="#147fd6"/><rect x="485.5" y="181.1" width="5.1" height="6.8" rx="2" fill="#147ed7"/><rect x="489.4" y="173" width="5.1" height="6.8" rx="2" fill="#137cd7"/><rect x="493.3" y="165" width="5" height="6.8" rx="2" fill="#137bd7"/><rect x="497.1" y="156.9" width="5" height="6.8" rx="2" fill="#137ad7"/><rect x="228.3" y="615.8" width="35" height="6.8" rx="2" fill="#fdd22b"/><rect x="246.9" y="607.8" width="30.1" height="6.8" rx="2" fill="#fdd22b"/><rect x="262.6" y="599.7" width="32" height="6.8" rx="2" fill="#fdd22b"/><rect x="279.5" y="591.6" width="25" height="6.8" rx="2" fill="#fdd22b"/><rect x="291" y="583.6" width="22" height="6.8" rx="2" fill="#fbd02e"/><rect x="305.1" y="575.5" width="21" height="6.8" rx="2" fill="#face31"/><rect x="319.1" y="567.5" width="20" height="6.8" rx="2" fill="#f8cb34"/><rect x="328.5" y="559.4" width="19.5" height="6.8" rx="2" fill="#f7ca36"/><rect x="339.8" y="551.4" width="19" height="6.8" rx="2" fill="#f5c839"/><rect x="351.1" y="543.4" width="18.4" height="6.8" rx="2" fill="#f3c63c"/><rect x="362.4" y="535.3" width="17.9" height="6.8" rx="2" fill="#efc440"/><rect x="372.2" y="527.2" width="17.3" height="6.8" rx="2" fill="#eac344"/><rect x="382.1" y="519.2" width="16.7" height="6.8" rx="2" fill="#e6c148"/><rect x="391.8" y="511.1" width="16.1" height="6.8" rx="2" fill="#e0c04c"/><rect x="400.3" y="503.1" width="15.5" height="6.8" rx="2" fill="#d8bd53"/><rect x="408.7" y="495" width="14.9" height="6.8" rx="2" fill="#cebb5a"/><rect x="417.2" y="487" width="14.5" height="6.8" rx="2" fill="#c0bc60"/><rect x="425.6" y="478.9" width="14.1" height="6.8" rx="2" fill="#b1bd66"/><rect x="434.3" y="470.9" width="13.6" height="6.8" rx="2" fill="#a3be6c"/><rect x="441" y="462.9" width="13.2" height="6.8" rx="2" fill="#93be72"/><rect x="449.4" y="454.8" width="12.8" height="6.8" rx="2" fill="#83bd7a"/><rect x="457.6" y="446.8" width="12.4" height="6.8" rx="2" fill="#72bd82"/><rect x="464" y="438.7" width="12" height="6.8" rx="2" fill="#62bb8a"/><rect x="472.6" y="430.6" width="11.8" height="6.8" rx="2" fill="#5cbb8d"/><rect x="479.2" y="422.6" width="11.6" height="6.8" rx="2" fill="#56ba90"/><rect x="487.2" y="414.5" width="11.4" height="6.8" rx="2" fill="#4fba93"/><rect x="493.9" y="406.5" width="11.2" height="6.8" rx="2" fill="#48b997"/><rect x="500.5" y="398.4" width="11" height="6.8" rx="2" fill="#42b99a"/><rect x="506.8" y="390.4" width="10.9" height="6.8" rx="2" fill="#38b89f"/><rect x="513.2" y="382.3" width="10.7" height="6.8" rx="2" fill="#2eb7a4"/><rect x="519" y="374.3" width="10.6" height="6.8" rx="2" fill="#2ab5a8"/><rect x="525.8" y="366.2" width="10.4" height="6.8" rx="2" fill="#25b3ac"/><rect x="534" y="358.2" width="10.2" height="6.8" rx="2" fill="#21b0b1"/><rect x="541" y="350.1" width="10.1" height="6.8" rx="2" fill="#1caeb5"/><rect x="546.8" y="342.1" width="10" height="6.8" rx="2" fill="#18acb8"/><rect x="551.4" y="334" width="9.9" height="6.8" rx="2" fill="#15abbc"/><rect x="556.3" y="326" width="9.8" height="6.8" rx="2" fill="#11a9c0"/><rect x="561.1" y="317.9" width="9.7" height="6.8" rx="2" fill="#0da7c3"/><rect x="565.8" y="309.9" width="9.6" height="6.8" rx="2" fill="#0ca5c5"/><rect x="570.8" y="301.8" width="9.6" height="6.8" rx="2" fill="#0ba3c7"/><rect x="575.9" y="293.8" width="9.5" height="6.8" rx="2" fill="#0ba1c9"/><rect x="581.1" y="285.7" width="9.4" height="6.8" rx="2" fill="#0a9fca"/><rect x="586.3" y="277.7" width="9.3" height="6.8" rx="2" fill="#099dcc"/><rect x="592" y="269.6" width="9.2" height="6.8" rx="2" fill="#0a9acd"/><rect x="597.6" y="261.6" width="9.1" height="6.8" rx="2" fill="#0b97ce"/><rect x="603.3" y="253.5" width="9.1" height="6.8" rx="2" fill="#0c94cf"/><rect x="609" y="245.5" width="9" height="6.8" rx="2" fill="#0d91d0"/><rect x="615" y="237.4" width="8.9" height="6.8" rx="2" fill="#0e8ed1"/><rect x="622" y="229.4" width="8.8" height="6.8" rx="2" fill="#108bd2"/><rect x="629" y="221.3" width="8.7" height="6.8" rx="2" fill="#1189d3"/><rect x="633.8" y="213.3" width="8.6" height="6.8" rx="2" fill="#1286d4"/><rect x="638.3" y="205.2" width="8.5" height="6.8" rx="2" fill="#1383d5"/><rect x="643" y="197.2" width="8.5" height="6.8" rx="2" fill="#1481d6"/><rect x="648.6" y="189.1" width="8.4" height="6.8" rx="2" fill="#147fd6"/><rect x="654.1" y="181.1" width="8.3" height="6.8" rx="2" fill="#147ed7"/><rect x="659.7" y="173" width="8.2" height="6.8" rx="2" fill="#137cd7"/><rect x="665.2" y="165" width="8.1" height="6.8" rx="2" fill="#137bd7"/><rect x="670.8" y="156.9" width="8" height="6.8" rx="2" fill="#137ad7"/><rect x="270.5" y="615.8" width="65.7" height="6.8" rx="2" fill="#2fb7a4"/><rect x="308.7" y="607.8" width="49.3" height="6.8" rx="2" fill="#40b89b"/><rect x="337.2" y="599.7" width="48" height="6.8" rx="2" fill="#49b997"/><rect x="358.1" y="591.6" width="39.1" height="6.8" rx="2" fill="#52ba92"/><rect x="381.2" y="583.6" width="31.6" height="6.8" rx="2" fill="#48b997"/><rect x="400.1" y="575.5" width="29" height="6.8" rx="2" fill="#3eb89c"/><rect x="416.3" y="567.5" width="28.8" height="6.8" rx="2" fill="#33b7a2"/><rect x="433.7" y="559.4" width="27.2" height="6.8" rx="2" fill="#2bb6a7"/><rect x="447.6" y="551.4" width="25.6" height="6.8" rx="2" fill="#26b3ac"/><rect x="465.4" y="543.4" width="24" height="6.8" rx="2" fill="#23b2ae"/><rect x="478.8" y="535.3" width="23.5" height="6.8" rx="2" fill="#21b0b1"/><rect x="493.1" y="527.2" width="23" height="6.8" rx="2" fill="#1eafb3"/><rect x="506.9" y="519.2" width="22.5" height="6.8" rx="2" fill="#1baeb6"/><rect x="518.1" y="511.1" width="21.9" height="6.8" rx="2" fill="#18acb8"/><rect x="531.2" y="503.1" width="21.4" height="6.8" rx="2" fill="#16abbb"/><rect x="542.6" y="495" width="20.9" height="6.8" rx="2" fill="#13aabd"/><rect x="554.8" y="487" width="20.4" height="6.8" rx="2" fill="#10a9c0"/><rect x="564.4" y="478.9" width="19.9" height="6.8" rx="2" fill="#0ea7c2"/><rect x="577.5" y="470.9" width="19.5" height="6.8" rx="2" fill="#0ca5c5"/><rect x="588.5" y="462.9" width="19" height="6.8" rx="2" fill="#0ba2c8"/><rect x="599.1" y="454.8" width="18.5" height="6.8" rx="2" fill="#0a9fca"/><rect x="609.6" y="446.8" width="18" height="6.8" rx="2" fill="#099ccc"/><rect x="618.6" y="438.7" width="17.7" height="6.8" rx="2" fill="#0b98ce"/><rect x="630.2" y="430.6" width="17.4" height="6.8" rx="2" fill="#0c95cf"/><rect x="641.5" y="422.6" width="17" height="6.8" rx="2" fill="#0d92d0"/><rect x="650.7" y="414.5" width="16.7" height="6.8" rx="2" fill="#0e8fd1"/><rect x="660.9" y="406.5" width="16.4" height="6.8" rx="2" fill="#0f8dd2"/><rect x="670.1" y="398.4" width="16.1" height="6.8" rx="2" fill="#108bd3"/><rect x="679.3" y="390.4" width="15.8" height="6.8" rx="2" fill="#1189d3"/><rect x="688.5" y="382.3" width="15.5" height="6.8" rx="2" fill="#1187d4"/><rect x="698.2" y="374.3" width="15.3" height="6.8" rx="2" fill="#1286d4"/><rect x="707.9" y="366.2" width="15" height="6.8" rx="2" fill="#1285d5"/><rect x="716.1" y="358.2" width="14.7" height="6.8" rx="2" fill="#1384d5"/><rect x="725.2" y="350.1" width="14.5" height="6.8" rx="2" fill="#1383d5"/><rect x="733.4" y="342.1" width="14.2" height="6.8" rx="2" fill="#1482d6"/><rect x="741.7" y="334" width="13.9" height="6.8" rx="2" fill="#1481d6"/><rect x="750.8" y="326" width="13.7" height="6.8" rx="2" fill="#147fd6"/><rect x="759.7" y="317.9" width="13.5" height="6.8" rx="2" fill="#147ed7"/><rect x="766.1" y="309.9" width="13.3" height="6.8" rx="2" fill="#137dd7"/><rect x="775.2" y="301.8" width="13.1" height="6.8" rx="2" fill="#137cd7"/><rect x="783.3" y="293.8" width="12.9" height="6.8" rx="2" fill="#137bd7"/><rect x="791.5" y="285.7" width="12.7" height="6.8" rx="2" fill="#1379d8"/><rect x="799.7" y="277.7" width="12.6" height="6.8" rx="2" fill="#1378d8"/><rect x="808.5" y="269.6" width="12.4" height="6.8" rx="2" fill="#1377d8"/><rect x="815.6" y="261.6" width="12.2" height="6.8" rx="2" fill="#1376d8"/><rect x="821.1" y="253.5" width="12" height="6.8" rx="2" fill="#1275d8"/><rect x="831.3" y="245.5" width="8.8" height="6.8" rx="2" fill="#1274d9"/><rect x="837.3" y="237.4" width="6.1" height="6.8" rx="2" fill="#1273d9"/><rect x="841.4" y="229.4" width="3.3" height="6.8" rx="2" fill="#1272d9"/></g><g fill="url(#st)"><rect x="117" y="647.6" width="4.4" height="7.6"/><rect x="121" y="647.6" width="36.4" height="7.6"/><rect x="157" y="647.6" width="28.4" height="7.6"/><rect x="185" y="647.6" width="26.4" height="7.6"/><rect x="211" y="647.6" width="26.4" height="7.6"/><rect x="237" y="647.6" width="28.4" height="7.6"/><rect x="265" y="647.6" width="27.4" height="7.6"/><rect x="121" y="639.6" width="5.4" height="7.6"/><rect x="126" y="639.6" width="44.4" height="7.6"/><rect x="170" y="639.6" width="41.4" height="7.6"/><rect x="211" y="639.6" width="26.4" height="7.6"/><rect x="237" y="639.6" width="33.4" height="7.6"/><rect x="270" y="639.6" width="30.4" height="7.6"/><rect x="143" y="631.5" width="4.4" height="7.6"/><rect x="147" y="631.5" width="39.4" height="7.6"/><rect x="186" y="631.5" width="47.4" height="7.6"/><rect x="233" y="631.5" width="37.4" height="7.6"/><rect x="270" y="631.5" width="40.4" height="7.6"/><rect x="310" y="631.5" width="20.4" height="7.6"/><rect x="162" y="623.5" width="4.4" height="7.6"/><rect x="166" y="623.5" width="34.4" height="7.6"/><rect x="200" y="623.5" width="51.4" height="7.6"/><rect x="251" y="623.5" width="59.4" height="7.6"/><rect x="310" y="623.5" width="30.4" height="7.6"/><rect x="340" y="623.5" width="20.4" height="7.6"/><rect x="182.7" y="615.4" width="30.2" height="7.6" rx="1.5"/><rect x="196.2" y="607.4" width="26.1" height="7.6" rx="1.5"/><rect x="205.9" y="599.3" width="26" height="7.6" rx="1.5"/><rect x="217.8" y="591.2" width="22" height="7.6" rx="1.5"/><rect x="227.7" y="583.2" width="22" height="7.6" rx="1.5"/><rect x="237.1" y="575.1" width="20.6" height="7.6" rx="1.5"/><rect x="246.5" y="567.1" width="19" height="7.6" rx="1.5"/><rect x="254.2" y="559" width="19" height="7.6" rx="1.5"/><rect x="263" y="551" width="17.2" height="7.6" rx="1.5"/><rect x="270.6" y="543" width="17" height="7.6" rx="1.5"/><rect x="278.5" y="534.9" width="16.8" height="7.6" rx="1.5"/><rect x="284.7" y="526.9" width="16.6" height="7.6" rx="1.5"/><rect x="290.9" y="518.8" width="16.2" height="7.6" rx="1.5"/><rect x="296.5" y="510.7" width="15.8" height="7.6" rx="1.5"/><rect x="302" y="502.7" width="15.3" height="7.6" rx="1.5"/><rect x="307.6" y="494.6" width="14.9" height="7.6" rx="1.5"/><rect x="313.1" y="486.6" width="14.6" height="7.6" rx="1.5"/><rect x="318.7" y="478.5" width="14.2" height="7.6" rx="1.5"/><rect x="324.2" y="470.5" width="13.8" height="7.6" rx="1.5"/><rect x="329.8" y="462.4" width="13.4" height="7.6" rx="1.5"/><rect x="335.1" y="454.4" width="13.1" height="7.6" rx="1.5"/><rect x="340.5" y="446.3" width="12.7" height="7.6" rx="1.5"/><rect x="345.9" y="438.3" width="12.3" height="7.6" rx="1.5"/><rect x="351.2" y="430.2" width="12" height="7.6" rx="1.5"/><rect x="356.5" y="422.2" width="11.9" height="7.6" rx="1.5"/><rect x="361.7" y="414.1" width="11.8" height="7.6" rx="1.5"/><rect x="366.9" y="406.1" width="11.7" height="7.6" rx="1.5"/><rect x="372.1" y="398" width="11.6" height="7.6" rx="1.5"/><rect x="377.2" y="390" width="11.5" height="7.6" rx="1.5"/><rect x="382.4" y="381.9" width="11.5" height="7.6" rx="1.5"/><rect x="387.6" y="373.9" width="11.4" height="7.6" rx="1.5"/><rect x="392.7" y="365.8" width="11.3" height="7.6" rx="1.5"/><rect x="397.9" y="357.8" width="11.2" height="7.6" rx="1.5"/><rect x="403" y="349.7" width="11.1" height="7.6" rx="1.5"/><rect x="408.2" y="341.7" width="11" height="7.6" rx="1.5"/><rect x="412.1" y="333.6" width="10.9" height="7.6" rx="1.5"/><rect x="416" y="325.6" width="10.8" height="7.6" rx="1.5"/><rect x="419.8" y="317.5" width="10.8" height="7.6" rx="1.5"/><rect x="423.7" y="309.5" width="10.7" height="7.6" rx="1.5"/><rect x="427.5" y="301.4" width="10.6" height="7.6" rx="1.5"/><rect x="431.4" y="293.4" width="10.5" height="7.6" rx="1.5"/><rect x="435.3" y="285.3" width="10.4" height="7.6" rx="1.5"/><rect x="439.1" y="277.3" width="10.4" height="7.6" rx="1.5"/><rect x="443" y="269.2" width="10.3" height="7.6" rx="1.5"/><rect x="446.8" y="261.2" width="10.2" height="7.6" rx="1.5"/><rect x="450.7" y="253.1" width="10.1" height="7.6" rx="1.5"/><rect x="454.5" y="245.1" width="10" height="7.6" rx="1.5"/><rect x="458" y="237" width="10" height="7.6" rx="1.5"/><rect x="461.1" y="229" width="9.9" height="7.6" rx="1.5"/><rect x="464.2" y="220.9" width="9.8" height="7.6" rx="1.5"/><rect x="467.4" y="212.9" width="9.7" height="7.6" rx="1.5"/><rect x="471.5" y="204.8" width="9.6" height="7.6" rx="1.5"/><rect x="475.5" y="196.8" width="9.5" height="7.6" rx="1.5"/><rect x="479.5" y="188.7" width="9.4" height="7.6" rx="1.5"/><rect x="483.5" y="180.7" width="9.3" height="7.6" rx="1.5"/><rect x="487.3" y="172.6" width="9.2" height="7.6" rx="1.5"/><rect x="491.2" y="164.6" width="9.1" height="7.6" rx="1.5"/><rect x="495.1" y="156.5" width="9" height="7.6" rx="1.5"/><rect x="225.3" y="615.4" width="41" height="7.6" rx="1.5"/><rect x="243.9" y="607.4" width="36.1" height="7.6" rx="1.5"/><rect x="259.6" y="599.3" width="38" height="7.6" rx="1.5"/><rect x="276.5" y="591.2" width="31" height="7.6" rx="1.5"/><rect x="288" y="583.2" width="28" height="7.6" rx="1.5"/><rect x="302.1" y="575.1" width="27" height="7.6" rx="1.5"/><rect x="316.1" y="567.1" width="26" height="7.6" rx="1.5"/><rect x="325.5" y="559" width="25.5" height="7.6" rx="1.5"/><rect x="336.8" y="551" width="25" height="7.6" rx="1.5"/><rect x="348.1" y="543" width="24.4" height="7.6" rx="1.5"/><rect x="359.4" y="534.9" width="23.9" height="7.6" rx="1.5"/><rect x="369.2" y="526.9" width="23.3" height="7.6" rx="1.5"/><rect x="379.1" y="518.8" width="22.7" height="7.6" rx="1.5"/><rect x="388.8" y="510.7" width="22.1" height="7.6" rx="1.5"/><rect x="397.3" y="502.7" width="21.5" height="7.6" rx="1.5"/><rect x="405.7" y="494.6" width="20.9" height="7.6" rx="1.5"/><rect x="414.2" y="486.6" width="20.5" height="7.6" rx="1.5"/><rect x="422.6" y="478.5" width="20.1" height="7.6" rx="1.5"/><rect x="431.3" y="470.5" width="19.6" height="7.6" rx="1.5"/><rect x="438" y="462.4" width="19.2" height="7.6" rx="1.5"/><rect x="446.4" y="454.4" width="18.8" height="7.6" rx="1.5"/><rect x="454.6" y="446.3" width="18.4" height="7.6" rx="1.5"/><rect x="461" y="438.3" width="18" height="7.6" rx="1.5"/><rect x="469.6" y="430.2" width="17.8" height="7.6" rx="1.5"/><rect x="476.2" y="422.2" width="17.6" height="7.6" rx="1.5"/><rect x="484.2" y="414.1" width="17.4" height="7.6" rx="1.5"/><rect x="490.9" y="406.1" width="17.2" height="7.6" rx="1.5"/><rect x="497.5" y="398" width="17" height="7.6" rx="1.5"/><rect x="503.8" y="390" width="16.9" height="7.6" rx="1.5"/><rect x="510.2" y="381.9" width="16.7" height="7.6" rx="1.5"/><rect x="516" y="373.9" width="16.6" height="7.6" rx="1.5"/><rect x="522.8" y="365.8" width="16.4" height="7.6" rx="1.5"/><rect x="531" y="357.8" width="16.2" height="7.6" rx="1.5"/><rect x="538" y="349.7" width="16.1" height="7.6" rx="1.5"/><rect x="543.8" y="341.7" width="16" height="7.6" rx="1.5"/><rect x="548.4" y="333.6" width="15.9" height="7.6" rx="1.5"/><rect x="553.3" y="325.6" width="15.8" height="7.6" rx="1.5"/><rect x="558.1" y="317.5" width="15.7" height="7.6" rx="1.5"/><rect x="562.8" y="309.5" width="15.6" height="7.6" rx="1.5"/><rect x="567.8" y="301.4" width="15.6" height="7.6" rx="1.5"/><rect x="572.9" y="293.4" width="15.5" height="7.6" rx="1.5"/><rect x="578.1" y="285.3" width="15.4" height="7.6" rx="1.5"/><rect x="583.3" y="277.3" width="15.3" height="7.6" rx="1.5"/><rect x="589" y="269.2" width="15.2" height="7.6" rx="1.5"/><rect x="594.6" y="261.2" width="15.1" height="7.6" rx="1.5"/><rect x="600.3" y="253.1" width="15.1" height="7.6" rx="1.5"/><rect x="606" y="245.1" width="15" height="7.6" rx="1.5"/><rect x="612" y="237" width="14.9" height="7.6" rx="1.5"/><rect x="619" y="229" width="14.8" height="7.6" rx="1.5"/><rect x="626" y="220.9" width="14.7" height="7.6" rx="1.5"/><rect x="630.8" y="212.9" width="14.6" height="7.6" rx="1.5"/><rect x="635.3" y="204.8" width="14.5" height="7.6" rx="1.5"/><rect x="640" y="196.8" width="14.5" height="7.6" rx="1.5"/><rect x="645.6" y="188.7" width="14.4" height="7.6" rx="1.5"/><rect x="651.1" y="180.7" width="14.3" height="7.6" rx="1.5"/><rect x="656.7" y="172.6" width="14.2" height="7.6" rx="1.5"/><rect x="662.2" y="164.6" width="14.1" height="7.6" rx="1.5"/><rect x="667.8" y="156.5" width="14" height="7.6" rx="1.5"/><rect x="267.5" y="615.4" width="71.7" height="7.6" rx="1.5"/><rect x="305.7" y="607.4" width="55.3" height="7.6" rx="1.5"/><rect x="334.2" y="599.3" width="54" height="7.6" rx="1.5"/><rect x="355.1" y="591.2" width="45.1" height="7.6" rx="1.5"/><rect x="378.2" y="583.2" width="37.6" height="7.6" rx="1.5"/><rect x="397.1" y="575.1" width="35" height="7.6" rx="1.5"/><rect x="413.3" y="567.1" width="34.8" height="7.6" rx="1.5"/><rect x="430.7" y="559" width="33.2" height="7.6" rx="1.5"/><rect x="444.6" y="551" width="31.6" height="7.6" rx="1.5"/><rect x="462.4" y="543" width="30" height="7.6" rx="1.5"/><rect x="475.8" y="534.9" width="29.5" height="7.6" rx="1.5"/><rect x="490.1" y="526.9" width="29" height="7.6" rx="1.5"/><rect x="503.9" y="518.8" width="28.5" height="7.6" rx="1.5"/><rect x="515.1" y="510.7" width="27.9" height="7.6" rx="1.5"/><rect x="528.2" y="502.7" width="27.4" height="7.6" rx="1.5"/><rect x="539.6" y="494.6" width="26.9" height="7.6" rx="1.5"/><rect x="551.8" y="486.6" width="26.4" height="7.6" rx="1.5"/><rect x="561.4" y="478.5" width="25.9" height="7.6" rx="1.5"/><rect x="574.5" y="470.5" width="25.5" height="7.6" rx="1.5"/><rect x="585.5" y="462.4" width="25" height="7.6" rx="1.5"/><rect x="596.1" y="454.4" width="24.5" height="7.6" rx="1.5"/><rect x="606.6" y="446.3" width="24" height="7.6" rx="1.5"/><rect x="615.6" y="438.3" width="23.7" height="7.6" rx="1.5"/><rect x="627.2" y="430.2" width="23.4" height="7.6" rx="1.5"/><rect x="638.5" y="422.2" width="23" height="7.6" rx="1.5"/><rect x="647.7" y="414.1" width="22.7" height="7.6" rx="1.5"/><rect x="657.9" y="406.1" width="22.4" height="7.6" rx="1.5"/><rect x="667.1" y="398" width="22.1" height="7.6" rx="1.5"/><rect x="676.3" y="390" width="21.8" height="7.6" rx="1.5"/><rect x="685.5" y="381.9" width="21.5" height="7.6" rx="1.5"/><rect x="695.2" y="373.9" width="21.3" height="7.6" rx="1.5"/><rect x="704.9" y="365.8" width="21" height="7.6" rx="1.5"/><rect x="713.1" y="357.8" width="20.7" height="7.6" rx="1.5"/><rect x="722.2" y="349.7" width="20.5" height="7.6" rx="1.5"/><rect x="730.4" y="341.7" width="20.2" height="7.6" rx="1.5"/><rect x="738.7" y="333.6" width="19.9" height="7.6" rx="1.5"/><rect x="747.8" y="325.6" width="19.7" height="7.6" rx="1.5"/><rect x="756.7" y="317.5" width="19.5" height="7.6" rx="1.5"/><rect x="763.1" y="309.5" width="19.3" height="7.6" rx="1.5"/><rect x="772.2" y="301.4" width="19.1" height="7.6" rx="1.5"/><rect x="780.3" y="293.4" width="18.9" height="7.6" rx="1.5"/><rect x="788.5" y="285.3" width="18.7" height="7.6" rx="1.5"/><rect x="796.7" y="277.3" width="18.6" height="7.6" rx="1.5"/><rect x="805.5" y="269.2" width="18.4" height="7.6" rx="1.5"/><rect x="812.6" y="261.2" width="18.2" height="7.6" rx="1.5"/><rect x="818.1" y="253.1" width="18" height="7.6" rx="1.5"/><rect x="828.3" y="245.1" width="14.8" height="7.6" rx="1.5"/><rect x="834.8" y="237" width="11.1" height="7.6" rx="1.5"/><rect x="840.1" y="229" width="6" height="7.6" rx="1.5"/></g></g>
<path d="M82 658.5h27M82 639.4h13.5M82 620.3h13.5M82 601.2h13.5M82 582.2h27M82 563.1h13.5M82 544h13.5M82 524.9h13.5M82 505.8h27M82 486.8h13.5M82 467.7h13.5M82 448.6h13.5M82 429.5h27M82 410.4h13.5M82 391.3h13.5M82 372.2h13.5M82 353.2h27M82 334.1h13.5M82 315h13.5M82 295.9h13.5M82 276.8h27M82 257.8h13.5M82 238.7h13.5M82 219.6h13.5M82 200.5h27M82 181.4h13.5M82 162.3h13.5M82 143.2h13.5M82 124.2h27M82 105.1h13.5M111.6 658.5v-8.7M141.4 658.5v-8.7M171.1 658.5v-8.7M200.9 658.5v-8.7M230.7 658.5v-17.5M260.5 658.5v-8.7M290.3 658.5v-8.7M320 658.5v-8.7M349.8 658.5v-8.7M379.6 658.5v-17.5M409.4 658.5v-8.7M439.2 658.5v-8.7M468.9 658.5v-8.7M498.7 658.5v-8.7M528.5 658.5v-17.5M558.3 658.5v-8.7M588.1 658.5v-8.7M617.8 658.5v-8.7M647.6 658.5v-8.7M677.4 658.5v-17.5M707.2 658.5v-8.7M737 658.5v-8.7M766.7 658.5v-8.7M796.5 658.5v-8.7M826.3 658.5v-17.5M856.1 658.5v-8.7M885.9 658.5v-8.7M915.6 658.5v-8.7M945.4 658.5v-8.7" stroke="#111" stroke-width="1.3" fill="none"/>
<rect x="81.8" y="86" width="893.4" height="572.5" fill="none" stroke="#555" stroke-width="1.3"/>
<rect x="980" y="628.8" width="50.5" height="29" fill="#263ea8" shape-rendering="crispEdges"/>
<rect x="980" y="600.3" width="50.5" height="29" fill="#1652cd" shape-rendering="crispEdges"/>
<rect x="980" y="571.7" width="50.5" height="29" fill="#1064dc" shape-rendering="crispEdges"/>
<rect x="980" y="543.1" width="50.5" height="29" fill="#1272d9" shape-rendering="crispEdges"/>
<rect x="980" y="514.5" width="50.5" height="29" fill="#1481d6" shape-rendering="crispEdges"/>
<rect x="980" y="486" width="50.5" height="29" fill="#0e8fd1" shape-rendering="crispEdges"/>
<rect x="980" y="457.4" width="50.5" height="29" fill="#099dcc" shape-rendering="crispEdges"/>
<rect x="980" y="428.8" width="50.5" height="29" fill="#0da7c3" shape-rendering="crispEdges"/>
<rect x="980" y="400.3" width="50.5" height="29" fill="#1eafb3" shape-rendering="crispEdges"/>
<rect x="980" y="371.7" width="50.5" height="29" fill="#2eb7a4" shape-rendering="crispEdges"/>
<rect x="980" y="343.1" width="50.5" height="29" fill="#52ba92" shape-rendering="crispEdges"/>
<rect x="980" y="314.6" width="50.5" height="29" fill="#74bd81" shape-rendering="crispEdges"/>
<rect x="980" y="286" width="50.5" height="29" fill="#95be71" shape-rendering="crispEdges"/>
<rect x="980" y="257.4" width="50.5" height="29" fill="#b3bd65" shape-rendering="crispEdges"/>
<rect x="980" y="228.8" width="50.5" height="29" fill="#d1bb59" shape-rendering="crispEdges"/>
<rect x="980" y="200.3" width="50.5" height="29" fill="#e2c04b" shape-rendering="crispEdges"/>
<rect x="980" y="171.7" width="50.5" height="29" fill="#f4c63b" shape-rendering="crispEdges"/>
<rect x="980" y="143.1" width="50.5" height="29" fill="#fdd22b" shape-rendering="crispEdges"/>
<rect x="980" y="114.6" width="50.5" height="29" fill="#fbe61d" shape-rendering="crispEdges"/>
<rect x="980" y="86" width="50.5" height="29" fill="#f9f90f" shape-rendering="crispEdges"/>
<path d="M1030.5 639.9h-13.5M1030.5 624.7h-13.5M1030.5 611.9h-13.5M1030.5 600.8h-13.5M1030.5 591h-13.5M1030.5 582.3h-26.5M1030.5 524.7h-13.5M1030.5 491.1h-13.5M1030.5 467.2h-13.5M1030.5 448.7h-13.5M1030.5 433.5h-13.5M1030.5 420.7h-13.5M1030.5 409.6h-13.5M1030.5 399.8h-13.5M1030.5 391.1h-26.5M1030.5 333.5h-13.5M1030.5 299.9h-13.5M1030.5 276h-13.5M1030.5 257.5h-13.5M1030.5 242.3h-13.5M1030.5 229.5h-13.5M1030.5 218.4h-13.5M1030.5 208.6h-13.5M1030.5 199.9h-26.5M1030.5 142.3h-13.5M1030.5 108.7h-13.5" stroke="#111" stroke-width="1.3" fill="none"/>
<path d="M1030.5 86V657.5" stroke="#111" stroke-width="1.2"/>
<text x="76.4" y="670.2" text-anchor="end" font-size="33.5">0</text>
<text x="76.4" y="593.9" text-anchor="end" font-size="33.5">2</text>
<text x="76.4" y="517.5" text-anchor="end" font-size="33.5">4</text>
<text x="76.4" y="441.2" text-anchor="end" font-size="33.5">6</text>
<text x="76.4" y="364.9" text-anchor="end" font-size="33.5">8</text>
<text x="76.4" y="288.5" text-anchor="end" font-size="33.5">10</text>
<text x="76.4" y="212.2" text-anchor="end" font-size="33.5">12</text>
<text x="76.4" y="135.9" text-anchor="end" font-size="33.5">14</text>
<text x="81.8" y="690.3" text-anchor="middle" font-size="33.5">0</text>
<text x="230.7" y="690.3" text-anchor="middle" font-size="33.5">10</text>
<text x="379.6" y="690.3" text-anchor="middle" font-size="33.5">20</text>
<text x="528.5" y="690.3" text-anchor="middle" font-size="33.5">30</text>
<text x="677.4" y="690.3" text-anchor="middle" font-size="33.5">40</text>
<text x="826.3" y="690.3" text-anchor="middle" font-size="33.5">50</text>
<text x="975.2" y="690.3" text-anchor="middle" font-size="33.5">60</text>
<text transform="translate(29.1,383) rotate(-90)" font-size="37">Y deviation [mm]</text>
<text x="693" y="742.9" font-size="35.5" textLength="275" lengthAdjust="spacingAndGlyphs">X deviation [mm]</text>
<text x="913.5" y="24.7" font-size="34.5">N</text>
<text x="938.8" y="34" font-size="25" textLength="88" lengthAdjust="spacingAndGlyphs">photons</text>
<text x="853.5" y="71.7" font-size="36" textLength="232" lengthAdjust="spacingAndGlyphs">detected/pixel</text>
<text x="1051.7" y="212.2" font-size="36.2" font-weight="bold">10</text>
<text x="1091.2" y="200" font-size="24" font-weight="bold">2</text>
<text x="1051.5" y="402.9" font-size="36.2" font-weight="bold">10</text>
<text x="1051.5" y="592" font-size="36.2" font-weight="bold">1</text>
<text x="116.5" y="210.2" font-size="42.6" font-weight="bold" fill="#ffc000" textLength="286" lengthAdjust="spacingAndGlyphs">EJ-262 0.1 mm</text>
<text x="246.8" y="268.5" font-size="42.6" font-weight="bold" fill="#ffc000">+</text>
<text x="199.5" y="323.5" font-size="43" font-weight="bold" fill="#ffc000" textLength="119" lengthAdjust="spacingAndGlyphs">Fibers</text>
<text x="503.2" y="207.1" font-size="34.3" font-weight="bold">He</text>
<text x="546.3" y="194.9" font-size="23" font-weight="bold">1+</text>
<text x="679.8" y="207.1" font-size="34.3" font-weight="bold">He</text>
<text x="723.6" y="194.9" font-size="24" font-weight="bold">2+</text>
<text x="878.2" y="202.6" font-size="35" font-weight="bold">p</text>
<text x="899.3" y="191.4" font-size="24" font-weight="bold">+</text>
<text x="-2.5" y="752.1" font-size="36" fill="#ff0000" textLength="18" lengthAdjust="spacingAndGlyphs">E</text>
<text x="16.2" y="761.6" font-size="25" fill="#ff0000" textLength="73" lengthAdjust="spacingAndGlyphs">proton</text>
<text x="98.8" y="752" font-size="35" fill="#ff0000" textLength="99.5" lengthAdjust="spacingAndGlyphs">[MeV]</text>
<text x="206.7" y="810.9" font-size="35.7" fill="#ff0000">34</text>
<text x="351.6" y="810.9" font-size="35.7" fill="#ff0000">8.5</text>
<text x="501" y="810.9" font-size="35.7" fill="#ff0000">3.8</text>
<text x="652.3" y="810.9" font-size="35.7" fill="#ff0000">2.1</text>
<text x="801.6" y="810.9" font-size="35.7" fill="#ff0000">1.4</text>
<text x="946.7" y="810.9" font-size="35.7" fill="#ff0000">0.8</text>
<path d="M95.5 769.4L980.2 767.5" stroke="#ff0000" stroke-width="4.6"/>
<path d="M82.4 769.3L96 762.6L96 775.9Z" fill="#ff0000"/>
</svg></body></html>
